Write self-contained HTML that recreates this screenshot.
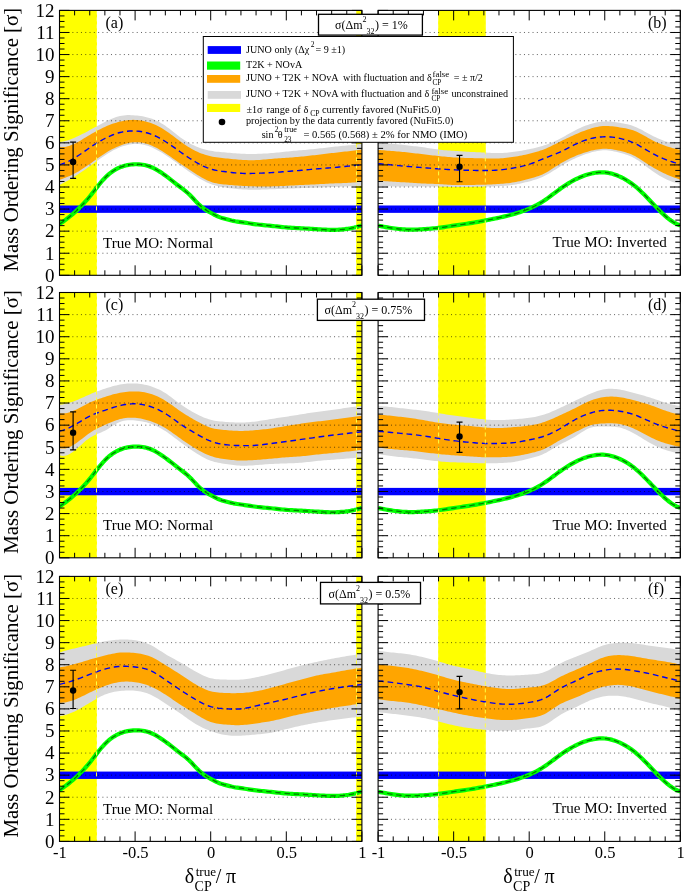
<!DOCTYPE html>
<html><head><meta charset="utf-8"><style>
html,body{margin:0;padding:0;background:#fff;}
svg{display:block;will-change:transform;}
</style></head><body>
<svg width="685" height="894" viewBox="0 0 685 894">
<rect width="685" height="894" fill="#fff"/>
<clipPath id="clipa"><rect x="59.5" y="10.4" width="302.4" height="264.9"/></clipPath>
<g clip-path="url(#clipa)">
<rect x="59.5" y="10.4" width="37.5" height="264.9" fill="#ffff00"/>
<rect x="356.0" y="10.4" width="5.9" height="264.9" fill="#ffff00"/>
<polygon fill="#d9d9d9" points="59.5,142.1 61.39,141.82 63.28,141.46 65.17,141.01 67.06,140.48 68.95,139.88 70.84,139.21 72.73,138.48 74.62,137.7 76.51,136.87 78.4,135.99 80.29,135.07 82.18,134.12 84.07,133.14 85.96,132.14 87.85,131.13 89.74,130.1 91.63,129.07 93.52,128.04 95.41,127.01 97.3,125.98 99.19,124.96 101.08,123.96 102.97,122.97 104.86,122 106.75,121.05 108.64,120.14 110.53,119.27 112.42,118.46 114.31,117.71 116.2,117.05 118.09,116.47 119.98,116 121.87,115.64 123.76,115.38 125.65,115.21 127.54,115.12 129.43,115.11 131.32,115.16 133.21,115.26 135.1,115.4 136.99,115.57 138.88,115.79 140.77,116.04 142.66,116.35 144.55,116.71 146.44,117.14 148.33,117.63 150.22,118.2 152.11,118.85 154,119.59 155.89,120.4 157.78,121.31 159.67,122.3 161.56,123.38 163.45,124.54 165.34,125.8 167.23,127.14 169.12,128.56 171.01,130.03 172.9,131.52 174.79,133.03 176.68,134.52 178.57,135.99 180.46,137.4 182.35,138.74 184.24,140.02 186.13,141.22 188.02,142.36 189.91,143.42 191.8,144.41 193.69,145.34 195.58,146.2 197.47,146.99 199.36,147.72 201.25,148.38 203.14,148.98 205.03,149.52 206.92,150 208.81,150.43 210.7,150.8 212.59,151.12 214.48,151.39 216.37,151.63 218.26,151.83 220.15,152.02 222.04,152.18 223.93,152.34 225.82,152.5 227.71,152.66 229.6,152.83 231.49,153 233.38,153.16 235.27,153.31 237.16,153.46 239.05,153.59 240.94,153.7 242.83,153.79 244.72,153.86 246.61,153.91 248.5,153.94 250.39,153.96 252.28,153.95 254.17,153.94 256.06,153.9 257.95,153.85 259.84,153.79 261.73,153.71 263.62,153.61 265.51,153.51 267.4,153.39 269.29,153.25 271.18,153.1 273.07,152.94 274.96,152.76 276.85,152.58 278.74,152.38 280.63,152.19 282.52,151.99 284.41,151.79 286.3,151.6 288.19,151.41 290.08,151.23 291.97,151.05 293.86,150.87 295.75,150.7 297.64,150.53 299.53,150.36 301.42,150.2 303.31,150.04 305.2,149.88 307.09,149.71 308.98,149.54 310.87,149.37 312.76,149.19 314.65,149 316.54,148.8 318.43,148.59 320.32,148.37 322.21,148.14 324.1,147.91 325.99,147.67 327.88,147.44 329.77,147.22 331.66,147 333.55,146.79 335.44,146.59 337.33,146.4 339.22,146.22 341.11,146.04 343,145.86 344.89,145.68 346.78,145.5 348.67,145.32 350.56,145.13 352.45,144.93 354.34,144.73 356.23,144.52 358.12,144.29 360.01,144.05 361.9,143.8 361.9,185.8 360.01,185.88 358.12,185.95 356.23,186.03 354.34,186.1 352.45,186.18 350.56,186.25 348.67,186.33 346.78,186.4 344.89,186.47 343,186.55 341.11,186.62 339.22,186.7 337.33,186.77 335.44,186.85 333.55,186.92 331.66,187 329.77,187.08 327.88,187.16 325.99,187.23 324.1,187.31 322.21,187.39 320.32,187.46 318.43,187.53 316.54,187.6 314.65,187.67 312.76,187.73 310.87,187.79 308.98,187.85 307.09,187.91 305.2,187.97 303.31,188.03 301.42,188.1 299.53,188.17 297.64,188.24 295.75,188.31 293.86,188.39 291.97,188.47 290.08,188.54 288.19,188.62 286.3,188.7 284.41,188.78 282.52,188.86 280.63,188.93 278.74,189.01 276.85,189.08 274.96,189.16 273.07,189.23 271.18,189.3 269.29,189.37 267.4,189.44 265.51,189.5 263.62,189.56 261.73,189.61 259.84,189.65 257.95,189.68 256.06,189.7 254.17,189.71 252.28,189.7 250.39,189.68 248.5,189.65 246.61,189.59 244.72,189.52 242.83,189.42 240.94,189.3 239.05,189.16 237.16,188.99 235.27,188.8 233.38,188.6 231.49,188.37 229.6,188.13 227.71,187.87 225.82,187.6 223.93,187.32 222.04,187.01 220.15,186.67 218.26,186.28 216.37,185.85 214.48,185.34 212.59,184.76 210.7,184.1 208.81,183.34 206.92,182.49 205.03,181.57 203.14,180.57 201.25,179.5 199.36,178.38 197.47,177.21 195.58,176 193.69,174.76 191.8,173.49 189.91,172.19 188.02,170.88 186.13,169.55 184.24,168.2 182.35,166.85 180.46,165.5 178.57,164.15 176.68,162.8 174.79,161.46 172.9,160.13 171.01,158.81 169.12,157.52 167.23,156.25 165.34,155 163.45,153.79 161.56,152.61 159.67,151.48 157.78,150.4 155.89,149.39 154,148.45 152.11,147.58 150.22,146.8 148.33,146.11 146.44,145.52 144.55,145.02 142.66,144.62 140.77,144.32 138.88,144.11 136.99,144.01 135.1,144 133.21,144.09 131.32,144.28 129.43,144.57 127.54,144.95 125.65,145.41 123.76,145.96 121.87,146.59 119.98,147.3 118.09,148.08 116.2,148.94 114.31,149.86 112.42,150.85 110.53,151.91 108.64,153.02 106.75,154.18 104.86,155.4 102.97,156.67 101.08,157.97 99.19,159.31 97.3,160.67 95.41,162.05 93.52,163.44 91.63,164.82 89.74,166.2 87.85,167.56 85.96,168.9 84.07,170.23 82.18,171.53 80.29,172.81 78.4,174.07 76.51,175.3 74.62,176.5 72.73,177.68 70.84,178.82 68.95,179.94 67.06,181.02 65.17,182.07 63.28,183.08 61.39,184.06 59.5,185"/>
<polygon fill="#ffa500" points="59.5,147 61.39,147.14 63.28,147.1 65.17,146.88 67.06,146.5 68.95,145.98 70.84,145.33 72.73,144.57 74.62,143.7 76.51,142.75 78.4,141.73 80.29,140.65 82.18,139.52 84.07,138.37 85.96,137.21 87.85,136.05 89.74,134.9 91.63,133.78 93.52,132.69 95.41,131.63 97.3,130.61 99.19,129.63 101.08,128.68 102.97,127.77 104.86,126.9 106.75,126.07 108.64,125.29 110.53,124.55 112.42,123.86 114.31,123.22 116.2,122.63 118.09,122.09 119.98,121.6 121.87,121.17 123.76,120.79 125.65,120.48 127.54,120.23 129.43,120.04 131.32,119.92 133.21,119.87 135.1,119.9 136.99,120 138.88,120.18 140.77,120.43 142.66,120.76 144.55,121.16 146.44,121.63 148.33,122.18 150.22,122.8 152.11,123.49 154,124.26 155.89,125.1 157.78,126.01 159.67,127 161.56,128.06 163.45,129.19 165.34,130.4 167.23,131.68 169.12,133.02 171.01,134.4 172.9,135.82 174.79,137.25 176.68,138.68 178.57,140.11 180.46,141.5 182.35,142.85 184.24,144.17 186.13,145.43 188.02,146.64 189.91,147.79 191.8,148.89 193.69,149.93 195.58,150.9 197.47,151.8 199.36,152.64 201.25,153.41 203.14,154.12 205.03,154.76 206.92,155.33 208.81,155.85 210.7,156.3 212.59,156.69 214.48,157.03 216.37,157.32 218.26,157.58 220.15,157.81 222.04,158.02 223.93,158.21 225.82,158.4 227.71,158.59 229.6,158.78 231.49,158.97 233.38,159.16 235.27,159.34 237.16,159.51 239.05,159.66 240.94,159.8 242.83,159.92 244.72,160.02 246.61,160.1 248.5,160.16 250.39,160.19 252.28,160.19 254.17,160.16 256.06,160.1 257.95,160.01 259.84,159.89 261.73,159.75 263.62,159.59 265.51,159.42 267.4,159.24 269.29,159.07 271.18,158.9 273.07,158.74 274.96,158.59 276.85,158.45 278.74,158.31 280.63,158.18 282.52,158.06 284.41,157.93 286.3,157.8 288.19,157.67 290.08,157.54 291.97,157.4 293.86,157.25 295.75,157.1 297.64,156.94 299.53,156.78 301.42,156.6 303.31,156.41 305.2,156.21 307.09,156.01 308.98,155.8 310.87,155.58 312.76,155.35 314.65,155.13 316.54,154.9 318.43,154.67 320.32,154.44 322.21,154.22 324.1,153.99 325.99,153.76 327.88,153.54 329.77,153.32 331.66,153.1 333.55,152.88 335.44,152.67 337.33,152.46 339.22,152.25 341.11,152.03 343,151.82 344.89,151.61 346.78,151.4 348.67,151.19 350.56,150.97 352.45,150.75 354.34,150.53 356.23,150.3 358.12,150.07 360.01,149.84 361.9,149.6 361.9,181.7 360.01,181.92 358.12,182.12 356.23,182.29 354.34,182.45 352.45,182.58 350.56,182.7 348.67,182.81 346.78,182.9 344.89,182.98 343,183.06 341.11,183.13 339.22,183.2 337.33,183.27 335.44,183.34 333.55,183.42 331.66,183.5 329.77,183.59 327.88,183.68 325.99,183.78 324.1,183.89 322.21,183.99 320.32,184.1 318.43,184.2 316.54,184.3 314.65,184.39 312.76,184.48 310.87,184.57 308.98,184.65 307.09,184.74 305.2,184.82 303.31,184.91 301.42,185 299.53,185.09 297.64,185.19 295.75,185.29 293.86,185.39 291.97,185.5 290.08,185.6 288.19,185.7 286.3,185.8 284.41,185.9 282.52,185.99 280.63,186.08 278.74,186.16 276.85,186.23 274.96,186.3 273.07,186.35 271.18,186.4 269.29,186.44 267.4,186.46 265.51,186.47 263.62,186.48 261.73,186.47 259.84,186.46 257.95,186.43 256.06,186.4 254.17,186.36 252.28,186.31 250.39,186.25 248.5,186.18 246.61,186.1 244.72,186.01 242.83,185.91 240.94,185.8 239.05,185.68 237.16,185.55 235.27,185.41 233.38,185.26 231.49,185.11 229.6,184.94 227.71,184.77 225.82,184.6 223.93,184.42 222.04,184.22 220.15,183.98 218.26,183.7 216.37,183.36 214.48,182.93 212.59,182.42 210.7,181.8 208.81,181.06 206.92,180.22 205.03,179.29 203.14,178.27 201.25,177.19 199.36,176.06 197.47,174.89 195.58,173.7 193.69,172.5 191.8,171.28 189.91,170.05 188.02,168.81 186.13,167.56 184.24,166.29 182.35,165 180.46,163.7 178.57,162.38 176.68,161.05 174.79,159.71 172.9,158.38 171.01,157.05 169.12,155.74 167.23,154.46 165.34,153.2 163.45,151.98 161.56,150.8 159.67,149.67 157.78,148.6 155.89,147.59 154,146.65 152.11,145.78 150.22,145 148.33,144.31 146.44,143.71 144.55,143.2 142.66,142.8 140.77,142.49 138.88,142.29 136.99,142.19 135.1,142.2 133.21,142.32 131.32,142.55 129.43,142.87 127.54,143.28 125.65,143.78 123.76,144.35 121.87,145 119.98,145.7 118.09,146.46 116.2,147.28 114.31,148.15 112.42,149.08 110.53,150.07 108.64,151.12 106.75,152.23 104.86,153.4 102.97,154.63 101.08,155.91 99.19,157.22 97.3,158.57 95.41,159.93 93.52,161.3 91.63,162.66 89.74,164 87.85,165.32 85.96,166.6 84.07,167.85 82.18,169.07 80.29,170.24 78.4,171.38 76.51,172.46 74.62,173.5 72.73,174.49 70.84,175.42 68.95,176.29 67.06,177.11 65.17,177.86 63.28,178.54 61.39,179.16 59.5,179.7"/>
<rect x="59.5" y="205.49" width="302.4" height="7.37" fill="#0000ff"/>
<polyline fill="none" stroke="#00ff00" stroke-width="4.2" stroke-linejoin="round" points="59.5,224.09 61.39,222.8 63.28,221.47 65.17,220.09 67.06,218.66 68.95,217.18 70.84,215.64 72.73,214.04 74.62,212.39 76.51,210.66 78.4,208.87 80.29,207 82.18,205.06 84.07,203.05 85.96,200.95 87.85,198.76 89.74,196.49 91.63,194.14 93.52,191.72 95.41,189.29 97.3,186.86 99.19,184.48 101.08,182.18 102.97,179.99 104.86,177.95 106.75,176.08 108.64,174.39 110.53,172.85 112.42,171.48 114.31,170.25 116.2,169.15 118.09,168.19 119.98,167.35 121.87,166.63 123.76,166.01 125.65,165.49 127.54,165.07 129.43,164.75 131.32,164.51 133.21,164.35 135.1,164.26 136.99,164.25 138.88,164.32 140.77,164.47 142.66,164.71 144.55,165.04 146.44,165.48 148.33,166.03 150.22,166.69 152.11,167.47 154,168.36 155.89,169.36 157.78,170.45 159.67,171.62 161.56,172.86 163.45,174.16 165.34,175.52 167.23,176.92 169.12,178.36 171.01,179.82 172.9,181.3 174.79,182.79 176.68,184.28 178.57,185.76 180.46,187.22 182.35,188.66 184.24,190.12 186.13,191.64 188.02,193.26 189.91,195.03 191.8,196.96 193.69,199 195.58,201.05 197.47,203.04 199.36,204.88 201.25,206.56 203.14,208.07 205.03,209.42 206.92,210.62 208.81,211.72 210.7,212.75 212.59,213.77 214.48,214.78 216.37,215.74 218.26,216.62 220.15,217.37 222.04,218.01 223.93,218.55 225.82,219.05 227.71,219.54 229.6,220.03 231.49,220.49 233.38,220.9 235.27,221.26 237.16,221.56 239.05,221.83 240.94,222.1 242.83,222.37 244.72,222.66 246.61,222.94 248.5,223.23 250.39,223.52 252.28,223.8 254.17,224.06 256.06,224.31 257.95,224.53 259.84,224.74 261.73,224.94 263.62,225.12 265.51,225.31 267.4,225.48 269.29,225.66 271.18,225.85 273.07,226.05 274.96,226.25 276.85,226.46 278.74,226.66 280.63,226.86 282.52,227.05 284.41,227.23 286.3,227.4 288.19,227.54 290.08,227.67 291.97,227.79 293.86,227.9 295.75,228 297.64,228.09 299.53,228.18 301.42,228.28 303.31,228.38 305.2,228.48 307.09,228.59 308.98,228.7 310.87,228.82 312.76,228.93 314.65,229.05 316.54,229.16 318.43,229.28 320.32,229.39 322.21,229.5 324.1,229.6 325.99,229.68 327.88,229.75 329.77,229.8 331.66,229.83 333.55,229.83 335.44,229.8 337.33,229.74 339.22,229.65 341.11,229.53 343,229.37 344.89,229.18 346.78,228.94 348.67,228.67 350.56,228.35 352.45,227.98 354.34,227.57 356.23,227.11 358.12,226.6 360.01,226.03 361.9,225.41"/>
<polyline fill="none" stroke="#000" stroke-opacity="0.5" stroke-width="1.3" stroke-dasharray="5.4 3.8" points="59.5,224.09 61.39,222.8 63.28,221.47 65.17,220.09 67.06,218.66 68.95,217.18 70.84,215.64 72.73,214.04 74.62,212.39 76.51,210.66 78.4,208.87 80.29,207 82.18,205.06 84.07,203.05 85.96,200.95 87.85,198.76 89.74,196.49 91.63,194.14 93.52,191.72 95.41,189.29 97.3,186.86 99.19,184.48 101.08,182.18 102.97,179.99 104.86,177.95 106.75,176.08 108.64,174.39 110.53,172.85 112.42,171.48 114.31,170.25 116.2,169.15 118.09,168.19 119.98,167.35 121.87,166.63 123.76,166.01 125.65,165.49 127.54,165.07 129.43,164.75 131.32,164.51 133.21,164.35 135.1,164.26 136.99,164.25 138.88,164.32 140.77,164.47 142.66,164.71 144.55,165.04 146.44,165.48 148.33,166.03 150.22,166.69 152.11,167.47 154,168.36 155.89,169.36 157.78,170.45 159.67,171.62 161.56,172.86 163.45,174.16 165.34,175.52 167.23,176.92 169.12,178.36 171.01,179.82 172.9,181.3 174.79,182.79 176.68,184.28 178.57,185.76 180.46,187.22 182.35,188.66 184.24,190.12 186.13,191.64 188.02,193.26 189.91,195.03 191.8,196.96 193.69,199 195.58,201.05 197.47,203.04 199.36,204.88 201.25,206.56 203.14,208.07 205.03,209.42 206.92,210.62 208.81,211.72 210.7,212.75 212.59,213.77 214.48,214.78 216.37,215.74 218.26,216.62 220.15,217.37 222.04,218.01 223.93,218.55 225.82,219.05 227.71,219.54 229.6,220.03 231.49,220.49 233.38,220.9 235.27,221.26 237.16,221.56 239.05,221.83 240.94,222.1 242.83,222.37 244.72,222.66 246.61,222.94 248.5,223.23 250.39,223.52 252.28,223.8 254.17,224.06 256.06,224.31 257.95,224.53 259.84,224.74 261.73,224.94 263.62,225.12 265.51,225.31 267.4,225.48 269.29,225.66 271.18,225.85 273.07,226.05 274.96,226.25 276.85,226.46 278.74,226.66 280.63,226.86 282.52,227.05 284.41,227.23 286.3,227.4 288.19,227.54 290.08,227.67 291.97,227.79 293.86,227.9 295.75,228 297.64,228.09 299.53,228.18 301.42,228.28 303.31,228.38 305.2,228.48 307.09,228.59 308.98,228.7 310.87,228.82 312.76,228.93 314.65,229.05 316.54,229.16 318.43,229.28 320.32,229.39 322.21,229.5 324.1,229.6 325.99,229.68 327.88,229.75 329.77,229.8 331.66,229.83 333.55,229.83 335.44,229.8 337.33,229.74 339.22,229.65 341.11,229.53 343,229.37 344.89,229.18 346.78,228.94 348.67,228.67 350.56,228.35 352.45,227.98 354.34,227.57 356.23,227.11 358.12,226.6 360.01,226.03 361.9,225.41"/>
<polyline fill="none" stroke="#0000f0" stroke-width="1.4" stroke-dasharray="5.7 3.8" points="59.5,164.6 61.39,164.13 63.28,163.53 65.17,162.82 67.06,162.01 68.95,161.1 70.84,160.1 72.73,159.03 74.62,157.9 76.51,156.71 78.4,155.48 80.29,154.21 82.18,152.92 84.07,151.61 85.96,150.3 87.85,148.99 89.74,147.7 91.63,146.43 93.52,145.19 95.41,143.98 97.3,142.8 99.19,141.66 101.08,140.56 102.97,139.51 104.86,138.5 106.75,137.54 108.64,136.63 110.53,135.78 112.42,134.99 114.31,134.27 116.2,133.61 118.09,133.02 119.98,132.5 121.87,132.06 123.76,131.7 125.65,131.41 127.54,131.19 129.43,131.04 131.32,130.96 133.21,130.95 135.1,131 136.99,131.12 138.88,131.3 140.77,131.55 142.66,131.87 144.55,132.26 146.44,132.73 148.33,133.28 150.22,133.9 152.11,134.6 154,135.39 155.89,136.24 157.78,137.17 159.67,138.16 161.56,139.22 163.45,140.33 165.34,141.5 167.23,142.72 169.12,143.98 171.01,145.28 172.9,146.6 174.79,147.94 176.68,149.29 178.57,150.65 180.46,152 182.35,153.34 184.24,154.66 186.13,155.96 188.02,157.23 189.91,158.48 191.8,159.69 193.69,160.87 195.58,162 197.47,163.09 199.36,164.13 201.25,165.11 203.14,166.03 205.03,166.88 206.92,167.67 208.81,168.37 210.7,169 212.59,169.54 214.48,170.01 216.37,170.4 218.26,170.75 220.15,171.05 222.04,171.32 223.93,171.56 225.82,171.8 227.71,172.03 229.6,172.26 231.49,172.48 233.38,172.69 235.27,172.88 237.16,173.04 239.05,173.19 240.94,173.3 242.83,173.38 244.72,173.43 246.61,173.46 248.5,173.46 250.39,173.44 252.28,173.4 254.17,173.36 256.06,173.3 257.95,173.24 259.84,173.17 261.73,173.09 263.62,173.01 265.51,172.92 267.4,172.82 269.29,172.71 271.18,172.6 273.07,172.48 274.96,172.35 276.85,172.22 278.74,172.08 280.63,171.93 282.52,171.79 284.41,171.65 286.3,171.5 288.19,171.36 290.08,171.21 291.97,171.07 293.86,170.92 295.75,170.77 297.64,170.62 299.53,170.46 301.42,170.3 303.31,170.13 305.2,169.95 307.09,169.78 308.98,169.6 310.87,169.42 312.76,169.24 314.65,169.07 316.54,168.9 318.43,168.74 320.32,168.59 322.21,168.44 324.1,168.29 325.99,168.15 327.88,168 329.77,167.85 331.66,167.7 333.55,167.54 335.44,167.38 337.33,167.21 339.22,167.03 341.11,166.85 343,166.67 344.89,166.49 346.78,166.3 348.67,166.11 350.56,165.92 352.45,165.73 354.34,165.54 356.23,165.35 358.12,165.17 360.01,164.98 361.9,164.8"/>
<line x1="96.5" y1="10.4" x2="96.5" y2="275.3" stroke="#ffff40" stroke-width="1" stroke-dasharray="4 3"/>
<line x1="356.5" y1="10.4" x2="356.5" y2="275.3" stroke="#ffff40" stroke-width="1" stroke-dasharray="4 3"/>
<line x1="59.5" y1="253.23" x2="361.9" y2="253.23" stroke="#000" stroke-opacity="0.62" stroke-width="1" stroke-dasharray="1 3.29"/>
<line x1="59.5" y1="231.15" x2="361.9" y2="231.15" stroke="#000" stroke-opacity="0.62" stroke-width="1" stroke-dasharray="1 3.29"/>
<line x1="59.5" y1="209.07" x2="361.9" y2="209.07" stroke="#000" stroke-opacity="0.62" stroke-width="1" stroke-dasharray="1 3.29"/>
<line x1="59.5" y1="187" x2="361.9" y2="187" stroke="#000" stroke-opacity="0.62" stroke-width="1" stroke-dasharray="1 3.29"/>
<line x1="59.5" y1="164.93" x2="361.9" y2="164.93" stroke="#000" stroke-opacity="0.62" stroke-width="1" stroke-dasharray="1 3.29"/>
<line x1="59.5" y1="142.85" x2="361.9" y2="142.85" stroke="#000" stroke-opacity="0.62" stroke-width="1" stroke-dasharray="1 3.29"/>
<line x1="59.5" y1="120.77" x2="361.9" y2="120.77" stroke="#000" stroke-opacity="0.62" stroke-width="1" stroke-dasharray="1 3.29"/>
<line x1="59.5" y1="98.7" x2="361.9" y2="98.7" stroke="#000" stroke-opacity="0.62" stroke-width="1" stroke-dasharray="1 3.29"/>
<line x1="59.5" y1="76.62" x2="361.9" y2="76.62" stroke="#000" stroke-opacity="0.62" stroke-width="1" stroke-dasharray="1 3.29"/>
<line x1="59.5" y1="54.55" x2="361.9" y2="54.55" stroke="#000" stroke-opacity="0.62" stroke-width="1" stroke-dasharray="1 3.29"/>
<line x1="59.5" y1="32.47" x2="361.9" y2="32.47" stroke="#000" stroke-opacity="0.62" stroke-width="1" stroke-dasharray="1 3.29"/>
<line x1="73.11" y1="142.19" x2="73.11" y2="178.39" stroke="#000" stroke-width="1.15"/>
<line x1="70.11" y1="142.19" x2="76.11" y2="142.19" stroke="#000" stroke-width="1.15"/>
<line x1="70.11" y1="178.39" x2="76.11" y2="178.39" stroke="#000" stroke-width="1.15"/>
<circle cx="73.11" cy="162.06" r="3.2" fill="#000"/>
</g>
<path d="M59.5,275.3h10M361.9,275.3h-10M59.5,269.78h5M361.9,269.78h-5M59.5,264.26h5M361.9,264.26h-5M59.5,258.74h5M361.9,258.74h-5M59.5,253.23h10M361.9,253.23h-10M59.5,247.71h5M361.9,247.71h-5M59.5,242.19h5M361.9,242.19h-5M59.5,236.67h5M361.9,236.67h-5M59.5,231.15h10M361.9,231.15h-10M59.5,225.63h5M361.9,225.63h-5M59.5,220.11h5M361.9,220.11h-5M59.5,214.59h5M361.9,214.59h-5M59.5,209.07h10M361.9,209.07h-10M59.5,203.56h5M361.9,203.56h-5M59.5,198.04h5M361.9,198.04h-5M59.5,192.52h5M361.9,192.52h-5M59.5,187h10M361.9,187h-10M59.5,181.48h5M361.9,181.48h-5M59.5,175.96h5M361.9,175.96h-5M59.5,170.44h5M361.9,170.44h-5M59.5,164.93h10M361.9,164.93h-10M59.5,159.41h5M361.9,159.41h-5M59.5,153.89h5M361.9,153.89h-5M59.5,148.37h5M361.9,148.37h-5M59.5,142.85h10M361.9,142.85h-10M59.5,137.33h5M361.9,137.33h-5M59.5,131.81h5M361.9,131.81h-5M59.5,126.29h5M361.9,126.29h-5M59.5,120.77h10M361.9,120.77h-10M59.5,115.26h5M361.9,115.26h-5M59.5,109.74h5M361.9,109.74h-5M59.5,104.22h5M361.9,104.22h-5M59.5,98.7h10M361.9,98.7h-10M59.5,93.18h5M361.9,93.18h-5M59.5,87.66h5M361.9,87.66h-5M59.5,82.14h5M361.9,82.14h-5M59.5,76.62h10M361.9,76.62h-10M59.5,71.11h5M361.9,71.11h-5M59.5,65.59h5M361.9,65.59h-5M59.5,60.07h5M361.9,60.07h-5M59.5,54.55h10M361.9,54.55h-10M59.5,49.03h5M361.9,49.03h-5M59.5,43.51h5M361.9,43.51h-5M59.5,37.99h5M361.9,37.99h-5M59.5,32.47h10M361.9,32.47h-10M59.5,26.96h5M361.9,26.96h-5M59.5,21.44h5M361.9,21.44h-5M59.5,15.92h5M361.9,15.92h-5M59.5,10.4h10M361.9,10.4h-10M59.5,10.4v10M59.5,275.3v-10M74.62,10.4v5M74.62,275.3v-5M89.74,10.4v5M89.74,275.3v-5M104.86,10.4v5M104.86,275.3v-5M119.98,10.4v5M119.98,275.3v-5M135.1,10.4v10M135.1,275.3v-10M150.22,10.4v5M150.22,275.3v-5M165.34,10.4v5M165.34,275.3v-5M180.46,10.4v5M180.46,275.3v-5M195.58,10.4v5M195.58,275.3v-5M210.7,10.4v10M210.7,275.3v-10M225.82,10.4v5M225.82,275.3v-5M240.94,10.4v5M240.94,275.3v-5M256.06,10.4v5M256.06,275.3v-5M271.18,10.4v5M271.18,275.3v-5M286.3,10.4v10M286.3,275.3v-10M301.42,10.4v5M301.42,275.3v-5M316.54,10.4v5M316.54,275.3v-5M331.66,10.4v5M331.66,275.3v-5M346.78,10.4v5M346.78,275.3v-5M361.9,10.4v10M361.9,275.3v-10" stroke="#000" stroke-width="1" fill="none"/>
<rect x="59.5" y="10.4" width="302.4" height="264.9" fill="none" stroke="#000" stroke-width="1.1"/>
<text x="105.5" y="28.2" font-family="Liberation Serif" font-size="16">(a)</text>
<text x="103" y="247.6" font-family="Liberation Serif" font-size="15.1">True MO: Normal</text>
<clipPath id="clipb"><rect x="378.1" y="10.4" width="302.2" height="264.9"/></clipPath>
<g clip-path="url(#clipb)">
<rect x="438.1" y="10.4" width="47.7" height="264.9" fill="#ffff00"/>
<polygon fill="#d9d9d9" points="378.1,143.5 379.99,143.39 381.88,143.34 383.77,143.32 385.66,143.35 387.54,143.42 389.43,143.52 391.32,143.65 393.21,143.8 395.1,143.98 396.99,144.17 398.88,144.38 400.77,144.6 402.65,144.82 404.54,145.05 406.43,145.28 408.32,145.5 410.21,145.71 412.1,145.93 413.99,146.13 415.88,146.35 417.76,146.56 419.65,146.79 421.54,147.04 423.43,147.3 425.32,147.58 427.21,147.88 429.1,148.19 430.99,148.49 432.87,148.8 434.76,149.08 436.65,149.36 438.54,149.6 440.43,149.81 442.32,150 444.21,150.16 446.1,150.31 447.98,150.44 449.87,150.56 451.76,150.68 453.65,150.8 455.54,150.93 457.43,151.06 459.32,151.19 461.21,151.32 463.09,151.45 464.98,151.57 466.87,151.69 468.76,151.8 470.65,151.9 472.54,151.99 474.43,152.07 476.31,152.15 478.2,152.23 480.09,152.31 481.98,152.4 483.87,152.5 485.76,152.61 487.65,152.72 489.54,152.83 491.43,152.93 493.31,153.01 495.2,153.07 497.09,153.11 498.98,153.1 500.87,153.05 502.76,152.97 504.65,152.84 506.53,152.69 508.42,152.5 510.31,152.29 512.2,152.05 514.09,151.8 515.98,151.53 517.87,151.25 519.76,150.94 521.64,150.63 523.53,150.3 525.42,149.95 527.31,149.58 529.2,149.2 531.09,148.8 532.98,148.38 534.87,147.94 536.75,147.48 538.64,146.98 540.53,146.46 542.42,145.9 544.31,145.3 546.2,144.66 548.09,143.99 549.98,143.27 551.87,142.5 553.75,141.69 555.64,140.84 557.53,139.94 559.42,139 561.31,138.01 563.2,136.98 565.09,135.93 566.97,134.87 568.86,133.8 570.75,132.74 572.64,131.7 574.53,130.7 576.42,129.74 578.31,128.82 580.2,127.95 582.09,127.12 583.97,126.35 585.86,125.62 587.75,124.93 589.64,124.3 591.53,123.72 593.42,123.19 595.31,122.72 597.19,122.31 599.08,121.97 600.97,121.7 602.86,121.51 604.75,121.4 606.64,121.37 608.53,121.42 610.42,121.53 612.3,121.71 614.19,121.93 616.08,122.19 617.97,122.48 619.86,122.8 621.75,123.13 623.64,123.49 625.53,123.88 627.41,124.31 629.3,124.8 631.19,125.35 633.08,125.98 634.97,126.7 636.86,127.51 638.75,128.4 640.64,129.35 642.52,130.35 644.41,131.38 646.3,132.43 648.19,133.47 650.08,134.5 651.97,135.49 653.86,136.45 655.75,137.36 657.63,138.23 659.52,139.05 661.41,139.83 663.3,140.54 665.19,141.2 667.08,141.8 668.97,142.33 670.86,142.8 672.75,143.19 674.63,143.51 676.52,143.76 678.41,143.92 680.3,144 680.3,183.8 678.41,183.48 676.52,183.06 674.63,182.56 672.75,181.97 670.86,181.29 668.97,180.54 667.08,179.7 665.19,178.8 663.3,177.82 661.41,176.78 659.52,175.68 657.63,174.51 655.75,173.28 653.86,172.01 651.97,170.68 650.08,169.3 648.19,167.88 646.3,166.44 644.41,165 642.52,163.57 640.64,162.19 638.75,160.87 636.86,159.63 634.97,158.5 633.08,157.49 631.19,156.59 629.3,155.79 627.41,155.08 625.53,154.43 623.64,153.85 621.75,153.31 619.86,152.8 617.97,152.31 616.08,151.85 614.19,151.43 612.3,151.06 610.42,150.75 608.53,150.51 606.64,150.36 604.75,150.3 602.86,150.34 600.97,150.48 599.08,150.71 597.19,151.02 595.31,151.41 593.42,151.85 591.53,152.35 589.64,152.9 587.75,153.49 585.86,154.11 583.97,154.78 582.09,155.48 580.2,156.23 578.31,157.01 576.42,157.83 574.53,158.7 572.64,159.61 570.75,160.55 568.86,161.54 566.97,162.56 565.09,163.62 563.2,164.71 561.31,165.84 559.42,167 557.53,168.19 555.64,169.4 553.75,170.6 551.87,171.8 549.98,172.96 548.09,174.07 546.2,175.12 544.31,176.1 542.42,176.99 540.53,177.79 538.64,178.52 536.75,179.18 534.87,179.79 532.98,180.36 531.09,180.89 529.2,181.4 527.31,181.89 525.42,182.36 523.53,182.81 521.64,183.25 519.76,183.65 517.87,184.03 515.98,184.38 514.09,184.7 512.2,184.99 510.31,185.24 508.42,185.46 506.53,185.66 504.65,185.83 502.76,185.98 500.87,186.1 498.98,186.2 497.09,186.28 495.2,186.35 493.31,186.4 491.43,186.45 489.54,186.49 487.65,186.52 485.76,186.56 483.87,186.6 481.98,186.65 480.09,186.7 478.2,186.75 476.31,186.81 474.43,186.86 472.54,186.91 470.65,186.96 468.76,187 466.87,187.03 464.98,187.06 463.09,187.07 461.21,187.08 459.32,187.07 457.43,187.06 455.54,187.03 453.65,187 451.76,186.96 449.87,186.9 447.98,186.85 446.1,186.79 444.21,186.73 442.32,186.68 440.43,186.64 438.54,186.6 436.65,186.58 434.76,186.56 432.87,186.56 430.99,186.56 429.1,186.57 427.21,186.58 425.32,186.59 423.43,186.6 421.54,186.61 419.65,186.62 417.76,186.62 415.88,186.62 413.99,186.62 412.1,186.62 410.21,186.61 408.32,186.6 406.43,186.59 404.54,186.57 402.65,186.55 400.77,186.53 398.88,186.5 396.99,186.47 395.1,186.44 393.21,186.4 391.32,186.36 389.43,186.32 387.54,186.27 385.66,186.22 383.77,186.17 381.88,186.12 379.99,186.06 378.1,186"/>
<polygon fill="#ffa500" points="378.1,149.9 379.99,150.05 381.88,150.2 383.77,150.35 385.66,150.5 387.54,150.65 389.43,150.8 391.32,150.95 393.21,151.1 395.1,151.26 396.99,151.41 398.88,151.58 400.77,151.75 402.65,151.92 404.54,152.11 406.43,152.3 408.32,152.5 410.21,152.71 412.1,152.93 413.99,153.15 415.88,153.38 417.76,153.61 419.65,153.84 421.54,154.07 423.43,154.3 425.32,154.52 427.21,154.74 429.1,154.96 430.99,155.17 432.87,155.38 434.76,155.59 436.65,155.8 438.54,156 440.43,156.2 442.32,156.4 444.21,156.59 446.1,156.78 447.98,156.95 449.87,157.12 451.76,157.27 453.65,157.4 455.54,157.52 457.43,157.61 459.32,157.7 461.21,157.77 463.09,157.84 464.98,157.9 466.87,157.95 468.76,158 470.65,158.05 472.54,158.1 474.43,158.15 476.31,158.2 478.2,158.25 480.09,158.3 481.98,158.35 483.87,158.4 485.76,158.45 487.65,158.49 489.54,158.52 491.43,158.53 493.31,158.54 495.2,158.52 497.09,158.47 498.98,158.4 500.87,158.3 502.76,158.16 504.65,158 506.53,157.81 508.42,157.59 510.31,157.35 512.2,157.09 514.09,156.8 515.98,156.49 517.87,156.17 519.76,155.82 521.64,155.45 523.53,155.07 525.42,154.66 527.31,154.24 529.2,153.8 531.09,153.34 532.98,152.86 534.87,152.35 536.75,151.81 538.64,151.23 540.53,150.6 542.42,149.93 544.31,149.2 546.2,148.42 548.09,147.58 549.98,146.7 551.87,145.79 553.75,144.86 555.64,143.91 557.53,142.95 559.42,142 561.31,141.05 563.2,140.12 565.09,139.2 566.97,138.29 568.86,137.39 570.75,136.51 572.64,135.65 574.53,134.8 576.42,133.97 578.31,133.16 580.2,132.37 582.09,131.61 583.97,130.88 585.86,130.18 587.75,129.52 589.64,128.9 591.53,128.32 593.42,127.8 595.31,127.33 597.19,126.92 599.08,126.57 600.97,126.3 602.86,126.11 604.75,126 606.64,125.98 608.53,126.03 610.42,126.16 612.3,126.34 614.19,126.56 616.08,126.82 617.97,127.11 619.86,127.4 621.75,127.7 623.64,128.01 625.53,128.35 627.41,128.74 629.3,129.18 631.19,129.7 633.08,130.3 634.97,131 636.86,131.81 638.75,132.71 640.64,133.69 642.52,134.73 644.41,135.79 646.3,136.87 648.19,137.95 650.08,139 651.97,140.01 653.86,140.97 655.75,141.89 657.63,142.76 659.52,143.59 661.41,144.37 663.3,145.11 665.19,145.8 667.08,146.45 668.97,147.06 670.86,147.62 672.75,148.14 674.63,148.62 676.52,149.06 678.41,149.45 680.3,149.8 680.3,179.7 678.41,179.04 676.52,178.37 674.63,177.67 672.75,176.95 670.86,176.21 668.97,175.43 667.08,174.63 665.19,173.8 663.3,172.93 661.41,172.03 659.52,171.09 657.63,170.1 655.75,169.07 653.86,168 651.97,166.87 650.08,165.7 648.19,164.48 646.3,163.22 644.41,161.95 642.52,160.69 640.64,159.45 638.75,158.26 636.86,157.14 634.97,156.1 633.08,155.17 631.19,154.33 629.3,153.58 627.41,152.9 625.53,152.3 623.64,151.75 621.75,151.26 619.86,150.8 617.97,150.38 616.08,149.99 614.19,149.64 612.3,149.35 610.42,149.11 608.53,148.93 606.64,148.83 604.75,148.8 602.86,148.85 600.97,148.98 599.08,149.18 597.19,149.45 595.31,149.79 593.42,150.17 591.53,150.61 589.64,151.1 587.75,151.63 585.86,152.19 583.97,152.8 582.09,153.45 580.2,154.13 578.31,154.85 576.42,155.61 574.53,156.4 572.64,157.23 570.75,158.09 568.86,159 566.97,159.95 565.09,160.94 563.2,161.98 561.31,163.06 559.42,164.2 557.53,165.39 555.64,166.6 553.75,167.84 551.87,169.06 549.98,170.26 548.09,171.41 546.2,172.5 544.31,173.5 542.42,174.4 540.53,175.21 538.64,175.94 536.75,176.6 534.87,177.2 532.98,177.76 531.09,178.29 529.2,178.8 527.31,179.3 525.42,179.79 523.53,180.27 521.64,180.73 519.76,181.16 517.87,181.57 515.98,181.95 514.09,182.3 512.2,182.61 510.31,182.89 508.42,183.13 506.53,183.35 504.65,183.54 502.76,183.71 500.87,183.86 498.98,184 497.09,184.12 495.2,184.23 493.31,184.34 491.43,184.43 489.54,184.51 487.65,184.58 485.76,184.64 483.87,184.7 481.98,184.75 480.09,184.8 478.2,184.84 476.31,184.87 474.43,184.91 472.54,184.94 470.65,184.97 468.76,185 466.87,185.03 464.98,185.06 463.09,185.08 461.21,185.1 459.32,185.1 457.43,185.09 455.54,185.05 453.65,185 451.76,184.92 449.87,184.82 447.98,184.71 446.1,184.59 444.21,184.46 442.32,184.33 440.43,184.21 438.54,184.1 436.65,184.01 434.76,183.92 432.87,183.85 430.99,183.78 429.1,183.72 427.21,183.65 425.32,183.58 423.43,183.5 421.54,183.41 419.65,183.31 417.76,183.2 415.88,183.08 413.99,182.96 412.1,182.84 410.21,182.72 408.32,182.6 406.43,182.48 404.54,182.37 402.65,182.26 400.77,182.15 398.88,182.04 396.99,181.93 395.1,181.82 393.21,181.7 391.32,181.58 389.43,181.45 387.54,181.32 385.66,181.17 383.77,181.02 381.88,180.86 379.99,180.69 378.1,180.5"/>
<rect x="378.1" y="205.49" width="302.2" height="7.37" fill="#0000ff"/>
<polyline fill="none" stroke="#00ff00" stroke-width="4.2" stroke-linejoin="round" points="378.1,225.63 379.99,226 381.88,226.37 383.77,226.72 385.66,227.07 387.54,227.39 389.43,227.71 391.32,228 393.21,228.28 395.1,228.54 396.99,228.77 398.88,228.98 400.77,229.16 402.65,229.32 404.54,229.45 406.43,229.54 408.32,229.6 410.21,229.63 412.1,229.63 413.99,229.6 415.88,229.55 417.76,229.48 419.65,229.38 421.54,229.28 423.43,229.16 425.32,229.04 427.21,228.91 429.1,228.77 430.99,228.61 432.87,228.44 434.76,228.26 436.65,228.06 438.54,227.84 440.43,227.6 442.32,227.34 444.21,227.07 446.1,226.79 447.98,226.5 449.87,226.21 451.76,225.92 453.65,225.63 455.54,225.35 457.43,225.08 459.32,224.81 461.21,224.54 463.09,224.27 464.98,223.99 466.87,223.71 468.76,223.42 470.65,223.12 472.54,222.81 474.43,222.49 476.31,222.17 478.2,221.83 480.09,221.48 481.98,221.13 483.87,220.77 485.76,220.41 487.65,220.04 489.54,219.67 491.43,219.29 493.31,218.9 495.2,218.5 497.09,218.1 498.98,217.68 500.87,217.26 502.76,216.83 504.65,216.39 506.53,215.93 508.42,215.46 510.31,214.97 512.2,214.46 514.09,213.93 515.98,213.38 517.87,212.8 519.76,212.19 521.64,211.55 523.53,210.88 525.42,210.17 527.31,209.42 529.2,208.63 531.09,207.8 532.98,206.91 534.87,205.98 536.75,204.99 538.64,203.95 540.53,202.85 542.42,201.69 544.31,200.47 546.2,199.18 548.09,197.84 549.98,196.46 551.87,195.06 553.75,193.64 555.64,192.22 557.53,190.81 559.42,189.43 561.31,188.08 563.2,186.78 565.09,185.52 566.97,184.3 568.86,183.13 570.75,182.01 572.64,180.95 574.53,179.94 576.42,178.98 578.31,178.09 580.2,177.25 582.09,176.47 583.97,175.75 585.86,175.1 587.75,174.51 589.64,173.98 591.53,173.51 593.42,173.12 595.31,172.79 597.19,172.55 599.08,172.38 600.97,172.31 602.86,172.32 604.75,172.43 606.64,172.64 608.53,172.94 610.42,173.34 612.3,173.83 614.19,174.4 616.08,175.06 617.97,175.81 619.86,176.62 621.75,177.52 623.64,178.49 625.53,179.55 627.41,180.68 629.3,181.91 631.19,183.22 633.08,184.62 634.97,186.12 636.86,187.71 638.75,189.39 640.64,191.14 642.52,192.96 644.41,194.83 646.3,196.75 648.19,198.71 650.08,200.69 651.97,202.68 653.86,204.67 655.75,206.65 657.63,208.61 659.52,210.52 661.41,212.39 663.3,214.19 665.19,215.92 667.08,217.55 668.97,219.09 670.86,220.51 672.75,221.8 674.63,222.94 676.52,223.94 678.41,224.76 680.3,225.41"/>
<polyline fill="none" stroke="#000" stroke-opacity="0.5" stroke-width="1.3" stroke-dasharray="5.4 3.8" points="378.1,225.63 379.99,226 381.88,226.37 383.77,226.72 385.66,227.07 387.54,227.39 389.43,227.71 391.32,228 393.21,228.28 395.1,228.54 396.99,228.77 398.88,228.98 400.77,229.16 402.65,229.32 404.54,229.45 406.43,229.54 408.32,229.6 410.21,229.63 412.1,229.63 413.99,229.6 415.88,229.55 417.76,229.48 419.65,229.38 421.54,229.28 423.43,229.16 425.32,229.04 427.21,228.91 429.1,228.77 430.99,228.61 432.87,228.44 434.76,228.26 436.65,228.06 438.54,227.84 440.43,227.6 442.32,227.34 444.21,227.07 446.1,226.79 447.98,226.5 449.87,226.21 451.76,225.92 453.65,225.63 455.54,225.35 457.43,225.08 459.32,224.81 461.21,224.54 463.09,224.27 464.98,223.99 466.87,223.71 468.76,223.42 470.65,223.12 472.54,222.81 474.43,222.49 476.31,222.17 478.2,221.83 480.09,221.48 481.98,221.13 483.87,220.77 485.76,220.41 487.65,220.04 489.54,219.67 491.43,219.29 493.31,218.9 495.2,218.5 497.09,218.1 498.98,217.68 500.87,217.26 502.76,216.83 504.65,216.39 506.53,215.93 508.42,215.46 510.31,214.97 512.2,214.46 514.09,213.93 515.98,213.38 517.87,212.8 519.76,212.19 521.64,211.55 523.53,210.88 525.42,210.17 527.31,209.42 529.2,208.63 531.09,207.8 532.98,206.91 534.87,205.98 536.75,204.99 538.64,203.95 540.53,202.85 542.42,201.69 544.31,200.47 546.2,199.18 548.09,197.84 549.98,196.46 551.87,195.06 553.75,193.64 555.64,192.22 557.53,190.81 559.42,189.43 561.31,188.08 563.2,186.78 565.09,185.52 566.97,184.3 568.86,183.13 570.75,182.01 572.64,180.95 574.53,179.94 576.42,178.98 578.31,178.09 580.2,177.25 582.09,176.47 583.97,175.75 585.86,175.1 587.75,174.51 589.64,173.98 591.53,173.51 593.42,173.12 595.31,172.79 597.19,172.55 599.08,172.38 600.97,172.31 602.86,172.32 604.75,172.43 606.64,172.64 608.53,172.94 610.42,173.34 612.3,173.83 614.19,174.4 616.08,175.06 617.97,175.81 619.86,176.62 621.75,177.52 623.64,178.49 625.53,179.55 627.41,180.68 629.3,181.91 631.19,183.22 633.08,184.62 634.97,186.12 636.86,187.71 638.75,189.39 640.64,191.14 642.52,192.96 644.41,194.83 646.3,196.75 648.19,198.71 650.08,200.69 651.97,202.68 653.86,204.67 655.75,206.65 657.63,208.61 659.52,210.52 661.41,212.39 663.3,214.19 665.19,215.92 667.08,217.55 668.97,219.09 670.86,220.51 672.75,221.8 674.63,222.94 676.52,223.94 678.41,224.76 680.3,225.41"/>
<polyline fill="none" stroke="#0000f0" stroke-width="1.4" stroke-dasharray="5.7 3.8" points="378.1,163.6 379.99,163.79 381.88,163.97 383.77,164.16 385.66,164.35 387.54,164.54 389.43,164.73 391.32,164.91 393.21,165.1 395.1,165.28 396.99,165.47 398.88,165.65 400.77,165.83 402.65,166 404.54,166.17 406.43,166.34 408.32,166.5 410.21,166.66 412.1,166.81 413.99,166.96 415.88,167.11 417.76,167.26 419.65,167.4 421.54,167.55 423.43,167.7 425.32,167.85 427.21,168.01 429.1,168.16 430.99,168.31 432.87,168.46 434.76,168.61 436.65,168.76 438.54,168.9 440.43,169.03 442.32,169.16 444.21,169.29 446.1,169.4 447.98,169.51 449.87,169.61 451.76,169.71 453.65,169.8 455.54,169.88 457.43,169.96 459.32,170.03 461.21,170.09 463.09,170.15 464.98,170.2 466.87,170.25 468.76,170.3 470.65,170.34 472.54,170.38 474.43,170.41 476.31,170.44 478.2,170.47 480.09,170.48 481.98,170.5 483.87,170.5 485.76,170.5 487.65,170.48 489.54,170.45 491.43,170.41 493.31,170.34 495.2,170.26 497.09,170.14 498.98,170 500.87,169.83 502.76,169.62 504.65,169.39 506.53,169.13 508.42,168.85 510.31,168.55 512.2,168.23 514.09,167.9 515.98,167.55 517.87,167.19 519.76,166.8 521.64,166.38 523.53,165.92 525.42,165.43 527.31,164.89 529.2,164.3 531.09,163.66 532.98,162.97 534.87,162.24 536.75,161.49 538.64,160.72 540.53,159.94 542.42,159.16 544.31,158.4 546.2,157.66 548.09,156.92 549.98,156.2 551.87,155.46 553.75,154.72 555.64,153.95 557.53,153.14 559.42,152.3 561.31,151.41 563.2,150.48 565.09,149.52 566.97,148.54 568.86,147.56 570.75,146.59 572.64,145.63 574.53,144.7 576.42,143.81 578.31,142.96 580.2,142.15 582.09,141.39 583.97,140.69 585.86,140.03 587.75,139.44 589.64,138.9 591.53,138.42 593.42,138.01 595.31,137.66 597.19,137.36 599.08,137.13 600.97,136.96 602.86,136.85 604.75,136.8 606.64,136.81 608.53,136.87 610.42,137 612.3,137.17 614.19,137.4 616.08,137.69 617.97,138.02 619.86,138.4 621.75,138.83 623.64,139.31 625.53,139.85 627.41,140.44 629.3,141.1 631.19,141.83 633.08,142.63 634.97,143.5 636.86,144.45 638.75,145.47 640.64,146.54 642.52,147.64 644.41,148.76 646.3,149.89 648.19,151.01 650.08,152.1 651.97,153.16 653.86,154.17 655.75,155.15 657.63,156.08 659.52,156.98 661.41,157.83 663.3,158.64 665.19,159.4 667.08,160.12 668.97,160.8 670.86,161.43 672.75,162.02 674.63,162.56 676.52,163.05 678.41,163.5 680.3,163.9"/>
<line x1="438.6" y1="10.4" x2="438.6" y2="275.3" stroke="#ffff40" stroke-width="1" stroke-dasharray="4 3"/>
<line x1="485.3" y1="10.4" x2="485.3" y2="275.3" stroke="#ffff40" stroke-width="1" stroke-dasharray="4 3"/>
<line x1="378.1" y1="253.23" x2="680.3" y2="253.23" stroke="#000" stroke-opacity="0.62" stroke-width="1" stroke-dasharray="1 3.29"/>
<line x1="378.1" y1="231.15" x2="680.3" y2="231.15" stroke="#000" stroke-opacity="0.62" stroke-width="1" stroke-dasharray="1 3.29"/>
<line x1="378.1" y1="209.07" x2="680.3" y2="209.07" stroke="#000" stroke-opacity="0.62" stroke-width="1" stroke-dasharray="1 3.29"/>
<line x1="378.1" y1="187" x2="680.3" y2="187" stroke="#000" stroke-opacity="0.62" stroke-width="1" stroke-dasharray="1 3.29"/>
<line x1="378.1" y1="164.93" x2="680.3" y2="164.93" stroke="#000" stroke-opacity="0.62" stroke-width="1" stroke-dasharray="1 3.29"/>
<line x1="378.1" y1="142.85" x2="680.3" y2="142.85" stroke="#000" stroke-opacity="0.62" stroke-width="1" stroke-dasharray="1 3.29"/>
<line x1="378.1" y1="120.77" x2="680.3" y2="120.77" stroke="#000" stroke-opacity="0.62" stroke-width="1" stroke-dasharray="1 3.29"/>
<line x1="378.1" y1="98.7" x2="680.3" y2="98.7" stroke="#000" stroke-opacity="0.62" stroke-width="1" stroke-dasharray="1 3.29"/>
<line x1="378.1" y1="76.62" x2="680.3" y2="76.62" stroke="#000" stroke-opacity="0.62" stroke-width="1" stroke-dasharray="1 3.29"/>
<line x1="378.1" y1="54.55" x2="680.3" y2="54.55" stroke="#000" stroke-opacity="0.62" stroke-width="1" stroke-dasharray="1 3.29"/>
<line x1="378.1" y1="32.47" x2="680.3" y2="32.47" stroke="#000" stroke-opacity="0.62" stroke-width="1" stroke-dasharray="1 3.29"/>
<line x1="459.54" y1="155.43" x2="459.54" y2="181.7" stroke="#000" stroke-width="1.15"/>
<line x1="456.54" y1="155.43" x2="462.54" y2="155.43" stroke="#000" stroke-width="1.15"/>
<line x1="456.54" y1="181.7" x2="462.54" y2="181.7" stroke="#000" stroke-width="1.15"/>
<circle cx="459.54" cy="166.69" r="3.2" fill="#000"/>
</g>
<path d="M378.1,275.3h10M680.3,275.3h-10M378.1,269.78h5M680.3,269.78h-5M378.1,264.26h5M680.3,264.26h-5M378.1,258.74h5M680.3,258.74h-5M378.1,253.23h10M680.3,253.23h-10M378.1,247.71h5M680.3,247.71h-5M378.1,242.19h5M680.3,242.19h-5M378.1,236.67h5M680.3,236.67h-5M378.1,231.15h10M680.3,231.15h-10M378.1,225.63h5M680.3,225.63h-5M378.1,220.11h5M680.3,220.11h-5M378.1,214.59h5M680.3,214.59h-5M378.1,209.07h10M680.3,209.07h-10M378.1,203.56h5M680.3,203.56h-5M378.1,198.04h5M680.3,198.04h-5M378.1,192.52h5M680.3,192.52h-5M378.1,187h10M680.3,187h-10M378.1,181.48h5M680.3,181.48h-5M378.1,175.96h5M680.3,175.96h-5M378.1,170.44h5M680.3,170.44h-5M378.1,164.93h10M680.3,164.93h-10M378.1,159.41h5M680.3,159.41h-5M378.1,153.89h5M680.3,153.89h-5M378.1,148.37h5M680.3,148.37h-5M378.1,142.85h10M680.3,142.85h-10M378.1,137.33h5M680.3,137.33h-5M378.1,131.81h5M680.3,131.81h-5M378.1,126.29h5M680.3,126.29h-5M378.1,120.77h10M680.3,120.77h-10M378.1,115.26h5M680.3,115.26h-5M378.1,109.74h5M680.3,109.74h-5M378.1,104.22h5M680.3,104.22h-5M378.1,98.7h10M680.3,98.7h-10M378.1,93.18h5M680.3,93.18h-5M378.1,87.66h5M680.3,87.66h-5M378.1,82.14h5M680.3,82.14h-5M378.1,76.62h10M680.3,76.62h-10M378.1,71.11h5M680.3,71.11h-5M378.1,65.59h5M680.3,65.59h-5M378.1,60.07h5M680.3,60.07h-5M378.1,54.55h10M680.3,54.55h-10M378.1,49.03h5M680.3,49.03h-5M378.1,43.51h5M680.3,43.51h-5M378.1,37.99h5M680.3,37.99h-5M378.1,32.47h10M680.3,32.47h-10M378.1,26.96h5M680.3,26.96h-5M378.1,21.44h5M680.3,21.44h-5M378.1,15.92h5M680.3,15.92h-5M378.1,10.4h10M680.3,10.4h-10M378.1,10.4v10M378.1,275.3v-10M393.21,10.4v5M393.21,275.3v-5M408.32,10.4v5M408.32,275.3v-5M423.43,10.4v5M423.43,275.3v-5M438.54,10.4v5M438.54,275.3v-5M453.65,10.4v10M453.65,275.3v-10M468.76,10.4v5M468.76,275.3v-5M483.87,10.4v5M483.87,275.3v-5M498.98,10.4v5M498.98,275.3v-5M514.09,10.4v5M514.09,275.3v-5M529.2,10.4v10M529.2,275.3v-10M544.31,10.4v5M544.31,275.3v-5M559.42,10.4v5M559.42,275.3v-5M574.53,10.4v5M574.53,275.3v-5M589.64,10.4v5M589.64,275.3v-5M604.75,10.4v10M604.75,275.3v-10M619.86,10.4v5M619.86,275.3v-5M634.97,10.4v5M634.97,275.3v-5M650.08,10.4v5M650.08,275.3v-5M665.19,10.4v5M665.19,275.3v-5M680.3,10.4v10M680.3,275.3v-10" stroke="#000" stroke-width="1" fill="none"/>
<rect x="378.1" y="10.4" width="302.2" height="264.9" fill="none" stroke="#000" stroke-width="1.1"/>
<text x="648" y="28.2" font-family="Liberation Serif" font-size="16">(b)</text>
<text x="552.5" y="247" font-family="Liberation Serif" font-size="15.1">True MO: Inverted</text>
<clipPath id="clipc"><rect x="59.5" y="292.5" width="302.4" height="265.3"/></clipPath>
<g clip-path="url(#clipc)">
<rect x="59.5" y="292.5" width="37.5" height="265.3" fill="#ffff00"/>
<rect x="356.0" y="292.5" width="5.9" height="265.3" fill="#ffff00"/>
<polygon fill="#d9d9d9" points="59.5,404.5 61.39,404.4 63.28,404.19 65.17,403.86 67.06,403.45 68.95,402.94 70.84,402.36 72.73,401.71 74.62,401 76.51,400.24 78.4,399.45 80.29,398.62 82.18,397.78 84.07,396.92 85.96,396.07 87.85,395.23 89.74,394.4 91.63,393.6 93.52,392.83 95.41,392.09 97.3,391.37 99.19,390.67 101.08,389.99 102.97,389.34 104.86,388.7 106.75,388.08 108.64,387.49 110.53,386.91 112.42,386.37 114.31,385.87 116.2,385.4 118.09,384.98 119.98,384.6 121.87,384.27 123.76,384 125.65,383.78 127.54,383.61 129.43,383.5 131.32,383.44 133.21,383.44 135.1,383.5 136.99,383.61 138.88,383.79 140.77,384.02 142.66,384.31 144.55,384.66 146.44,385.08 148.33,385.56 150.22,386.1 152.11,386.71 154,387.39 155.89,388.14 157.78,388.96 159.67,389.87 161.56,390.86 163.45,391.93 165.34,393.1 167.23,394.36 169.12,395.69 171.01,397.08 172.9,398.5 174.79,399.95 176.68,401.39 178.57,402.81 180.46,404.2 182.35,405.53 184.24,406.81 186.13,408.04 188.02,409.21 189.91,410.35 191.8,411.44 193.69,412.49 195.58,413.5 197.47,414.48 199.36,415.42 201.25,416.3 203.14,417.14 205.03,417.91 206.92,418.62 208.81,419.25 210.7,419.8 212.59,420.26 214.48,420.65 216.37,420.96 218.26,421.22 220.15,421.44 222.04,421.61 223.93,421.76 225.82,421.9 227.71,422.03 229.6,422.15 231.49,422.26 233.38,422.35 235.27,422.42 237.16,422.48 239.05,422.5 240.94,422.5 242.83,422.47 244.72,422.4 246.61,422.3 248.5,422.18 250.39,422.02 252.28,421.84 254.17,421.63 256.06,421.4 257.95,421.14 259.84,420.86 261.73,420.57 263.62,420.26 265.51,419.95 267.4,419.63 269.29,419.31 271.18,419 273.07,418.7 274.96,418.4 276.85,418.11 278.74,417.83 280.63,417.55 282.52,417.27 284.41,416.98 286.3,416.7 288.19,416.41 290.08,416.12 291.97,415.83 293.86,415.53 295.75,415.23 297.64,414.92 299.53,414.61 301.42,414.3 303.31,413.99 305.2,413.67 307.09,413.36 308.98,413.05 310.87,412.75 312.76,412.45 314.65,412.17 316.54,411.9 318.43,411.65 320.32,411.4 322.21,411.17 324.1,410.94 325.99,410.71 327.88,410.48 329.77,410.25 331.66,410 333.55,409.74 335.44,409.48 337.33,409.2 339.22,408.92 341.11,408.64 343,408.35 344.89,408.07 346.78,407.8 348.67,407.53 350.56,407.28 352.45,407.03 354.34,406.8 356.23,406.59 358.12,406.41 360.01,406.24 361.9,406.1 361.9,457.5 360.01,457.62 358.12,457.74 356.23,457.87 354.34,458.01 352.45,458.15 350.56,458.3 348.67,458.45 346.78,458.6 344.89,458.75 343,458.91 341.11,459.06 339.22,459.22 337.33,459.37 335.44,459.52 333.55,459.66 331.66,459.8 329.77,459.94 327.88,460.07 325.99,460.2 324.1,460.34 322.21,460.49 320.32,460.64 318.43,460.81 316.54,461 314.65,461.21 312.76,461.43 310.87,461.65 308.98,461.88 307.09,462.11 305.2,462.33 303.31,462.52 301.42,462.7 299.53,462.85 297.64,462.97 295.75,463.07 293.86,463.16 291.97,463.23 290.08,463.29 288.19,463.35 286.3,463.4 284.41,463.46 282.52,463.51 280.63,463.58 278.74,463.65 276.85,463.72 274.96,463.8 273.07,463.9 271.18,464 269.29,464.11 267.4,464.24 265.51,464.37 263.62,464.51 261.73,464.65 259.84,464.8 257.95,464.95 256.06,465.1 254.17,465.25 252.28,465.39 250.39,465.52 248.5,465.62 246.61,465.7 244.72,465.74 242.83,465.74 240.94,465.7 239.05,465.6 237.16,465.46 235.27,465.28 233.38,465.06 231.49,464.82 229.6,464.55 227.71,464.28 225.82,464 223.93,463.72 222.04,463.43 220.15,463.11 218.26,462.76 216.37,462.35 214.48,461.88 212.59,461.34 210.7,460.7 208.81,459.96 206.92,459.13 205.03,458.21 203.14,457.22 201.25,456.17 199.36,455.05 197.47,453.89 195.58,452.7 193.69,451.48 191.8,450.23 189.91,448.95 188.02,447.65 186.13,446.33 184.24,444.98 182.35,443.6 180.46,442.2 178.57,440.78 176.68,439.34 174.79,437.9 172.9,436.48 171.01,435.07 169.12,433.7 167.23,432.37 165.34,431.1 163.45,429.89 161.56,428.76 159.67,427.69 157.78,426.7 155.89,425.79 154,424.94 152.11,424.18 150.22,423.5 148.33,422.9 146.44,422.37 144.55,421.92 142.66,421.53 140.77,421.2 138.88,420.92 136.99,420.69 135.1,420.5 133.21,420.35 131.32,420.26 129.43,420.25 127.54,420.33 125.65,420.53 123.76,420.86 121.87,421.34 119.98,422 118.09,422.84 116.2,423.84 114.31,424.94 112.42,426.12 110.53,427.32 108.64,428.52 106.75,429.66 104.86,430.7 102.97,431.62 101.08,432.45 99.19,433.23 97.3,434 95.41,434.79 93.52,435.67 91.63,436.65 89.74,437.8 87.85,439.13 85.96,440.62 84.07,442.23 82.18,443.91 80.29,445.63 78.4,447.35 76.51,449.02 74.62,450.6 72.73,452.06 70.84,453.35 68.95,454.43 67.06,455.27 65.17,455.81 63.28,456.02 61.39,455.87 59.5,455.3"/>
<polygon fill="#ffa500" points="59.5,413.2 61.39,413.4 63.28,413.41 65.17,413.24 67.06,412.9 68.95,412.42 70.84,411.82 72.73,411.11 74.62,410.3 76.51,409.42 78.4,408.48 80.29,407.5 82.18,406.5 84.07,405.49 85.96,404.49 87.85,403.52 89.74,402.6 91.63,401.74 93.52,400.93 95.41,400.17 97.3,399.46 99.19,398.78 101.08,398.13 102.97,397.51 104.86,396.9 106.75,396.3 108.64,395.72 110.53,395.16 112.42,394.62 114.31,394.11 116.2,393.64 118.09,393.2 119.98,392.8 121.87,392.45 123.76,392.15 125.65,391.89 127.54,391.69 129.43,391.54 131.32,391.44 133.21,391.39 135.1,391.4 136.99,391.46 138.88,391.59 140.77,391.77 142.66,392.02 144.55,392.33 146.44,392.71 148.33,393.17 150.22,393.7 152.11,394.31 154,394.99 155.89,395.76 157.78,396.59 159.67,397.51 161.56,398.5 163.45,399.56 165.34,400.7 167.23,401.91 169.12,403.18 171.01,404.49 172.9,405.83 174.79,407.19 176.68,408.54 178.57,409.89 180.46,411.2 182.35,412.47 184.24,413.71 186.13,414.9 188.02,416.07 189.91,417.21 191.8,418.32 193.69,419.42 195.58,420.5 197.47,421.57 199.36,422.61 201.25,423.62 203.14,424.58 205.03,425.48 206.92,426.31 208.81,427.05 210.7,427.7 212.59,428.24 214.48,428.69 216.37,429.05 218.26,429.34 220.15,429.58 222.04,429.78 223.93,429.95 225.82,430.1 227.71,430.25 229.6,430.39 231.49,430.53 233.38,430.65 235.27,430.75 237.16,430.83 239.05,430.88 240.94,430.9 242.83,430.89 244.72,430.84 246.61,430.77 248.5,430.67 250.39,430.56 252.28,430.42 254.17,430.26 256.06,430.1 257.95,429.93 259.84,429.74 261.73,429.55 263.62,429.34 265.51,429.13 267.4,428.9 269.29,428.66 271.18,428.4 273.07,428.13 274.96,427.85 276.85,427.55 278.74,427.25 280.63,426.94 282.52,426.63 284.41,426.32 286.3,426 288.19,425.69 290.08,425.37 291.97,425.07 293.86,424.76 295.75,424.46 297.64,424.17 299.53,423.88 301.42,423.6 303.31,423.33 305.2,423.06 307.09,422.8 308.98,422.55 310.87,422.31 312.76,422.07 314.65,421.83 316.54,421.6 318.43,421.37 320.32,421.15 322.21,420.93 324.1,420.71 325.99,420.48 327.88,420.26 329.77,420.03 331.66,419.8 333.55,419.56 335.44,419.32 337.33,419.07 339.22,418.82 341.11,418.57 343,418.31 344.89,418.06 346.78,417.8 348.67,417.54 350.56,417.29 352.45,417.03 354.34,416.78 356.23,416.53 358.12,416.28 360.01,416.04 361.9,415.8 361.9,449.9 360.01,450.1 358.12,450.31 356.23,450.52 354.34,450.74 352.45,450.95 350.56,451.17 348.67,451.38 346.78,451.6 344.89,451.81 343,452.03 341.11,452.23 339.22,452.44 337.33,452.64 335.44,452.83 333.55,453.02 331.66,453.2 329.77,453.37 327.88,453.54 325.99,453.71 324.1,453.87 322.21,454.04 320.32,454.22 318.43,454.4 316.54,454.6 314.65,454.81 312.76,455.03 310.87,455.26 308.98,455.49 307.09,455.71 305.2,455.92 303.31,456.12 301.42,456.3 299.53,456.46 297.64,456.59 295.75,456.71 293.86,456.83 291.97,456.94 290.08,457.05 288.19,457.17 286.3,457.3 284.41,457.45 282.52,457.61 280.63,457.78 278.74,457.96 276.85,458.15 274.96,458.34 273.07,458.52 271.18,458.7 269.29,458.87 267.4,459.04 265.51,459.19 263.62,459.34 261.73,459.49 259.84,459.63 257.95,459.77 256.06,459.9 254.17,460.03 252.28,460.15 250.39,460.26 248.5,460.36 246.61,460.43 244.72,460.49 242.83,460.51 240.94,460.5 239.05,460.46 237.16,460.38 235.27,460.27 233.38,460.12 231.49,459.95 229.6,459.76 227.71,459.54 225.82,459.3 223.93,459.04 222.04,458.75 220.15,458.43 218.26,458.06 216.37,457.64 214.48,457.16 212.59,456.62 210.7,456 208.81,455.3 206.92,454.53 205.03,453.68 203.14,452.77 201.25,451.8 199.36,450.78 197.47,449.71 195.58,448.6 193.69,447.45 191.8,446.28 189.91,445.07 188.02,443.83 186.13,442.56 184.24,441.26 182.35,439.94 180.46,438.6 178.57,437.24 176.68,435.86 174.79,434.49 172.9,433.14 171.01,431.81 169.12,430.52 167.23,429.28 165.34,428.1 163.45,427 161.56,425.96 159.67,425 157.78,424.1 155.89,423.27 154,422.49 152.11,421.77 150.22,421.1 148.33,420.48 146.44,419.92 144.55,419.41 142.66,418.96 140.77,418.57 138.88,418.24 136.99,417.99 135.1,417.8 133.21,417.69 131.32,417.65 129.43,417.69 127.54,417.81 125.65,418.01 123.76,418.29 121.87,418.65 119.98,419.1 118.09,419.63 116.2,420.23 114.31,420.9 112.42,421.63 110.53,422.4 108.64,423.21 106.75,424.05 104.86,424.9 102.97,425.77 101.08,426.65 99.19,427.57 97.3,428.52 95.41,429.53 93.52,430.61 91.63,431.76 89.74,433 87.85,434.33 85.96,435.74 84.07,437.19 82.18,438.65 80.29,440.12 78.4,441.55 76.51,442.92 74.62,444.2 72.73,445.37 70.84,446.4 68.95,447.27 67.06,447.95 65.17,448.4 63.28,448.61 61.39,448.56 59.5,448.2"/>
<rect x="59.5" y="487.89" width="302.4" height="7.38" fill="#0000ff"/>
<polyline fill="none" stroke="#00ff00" stroke-width="4.2" stroke-linejoin="round" points="59.5,506.51 61.39,505.22 63.28,503.88 65.17,502.5 67.06,501.07 68.95,499.59 70.84,498.05 72.73,496.45 74.62,494.79 76.51,493.06 78.4,491.27 80.29,489.4 82.18,487.46 84.07,485.44 85.96,483.34 87.85,481.15 89.74,478.87 91.63,476.51 93.52,474.1 95.41,471.66 97.3,469.23 99.19,466.84 101.08,464.54 102.97,462.35 104.86,460.3 106.75,458.43 108.64,456.73 110.53,455.2 112.42,453.82 114.31,452.59 116.2,451.49 118.09,450.53 119.98,449.69 121.87,448.96 123.76,448.34 125.65,447.83 127.54,447.41 129.43,447.08 131.32,446.84 133.21,446.68 135.1,446.6 136.99,446.58 138.88,446.65 140.77,446.8 142.66,447.04 144.55,447.38 146.44,447.82 148.33,448.36 150.22,449.03 152.11,449.81 154,450.7 155.89,451.7 157.78,452.79 159.67,453.96 161.56,455.2 163.45,456.51 165.34,457.87 167.23,459.27 169.12,460.71 171.01,462.18 172.9,463.66 174.79,465.15 176.68,466.64 178.57,468.12 180.46,469.59 182.35,471.03 184.24,472.49 186.13,474.01 188.02,475.64 189.91,477.41 191.8,479.34 193.69,481.38 195.58,483.44 197.47,485.43 199.36,487.27 201.25,488.95 203.14,490.47 205.03,491.82 206.92,493.02 208.81,494.12 210.7,495.16 212.59,496.18 214.48,497.19 216.37,498.15 218.26,499.03 220.15,499.79 222.04,500.42 223.93,500.96 225.82,501.47 227.71,501.96 229.6,502.44 231.49,502.91 233.38,503.32 235.27,503.68 237.16,503.98 239.05,504.25 240.94,504.52 242.83,504.79 244.72,505.08 246.61,505.37 248.5,505.66 250.39,505.94 252.28,506.22 254.17,506.48 256.06,506.73 257.95,506.96 259.84,507.17 261.73,507.36 263.62,507.55 265.51,507.73 267.4,507.91 269.29,508.09 271.18,508.28 273.07,508.47 274.96,508.68 276.85,508.88 278.74,509.09 280.63,509.29 282.52,509.48 284.41,509.66 286.3,509.82 288.19,509.97 290.08,510.1 291.97,510.22 293.86,510.33 295.75,510.42 297.64,510.52 299.53,510.61 301.42,510.71 303.31,510.81 305.2,510.91 307.09,511.02 308.98,511.13 310.87,511.25 312.76,511.36 314.65,511.48 316.54,511.59 318.43,511.71 320.32,511.82 322.21,511.93 324.1,512.03 325.99,512.11 327.88,512.18 329.77,512.23 331.66,512.26 333.55,512.26 335.44,512.23 337.33,512.17 339.22,512.08 341.11,511.96 343,511.8 344.89,511.61 346.78,511.37 348.67,511.1 350.56,510.78 352.45,510.41 354.34,510 356.23,509.54 358.12,509.02 360.01,508.46 361.9,507.84"/>
<polyline fill="none" stroke="#000" stroke-opacity="0.5" stroke-width="1.3" stroke-dasharray="5.4 3.8" points="59.5,506.51 61.39,505.22 63.28,503.88 65.17,502.5 67.06,501.07 68.95,499.59 70.84,498.05 72.73,496.45 74.62,494.79 76.51,493.06 78.4,491.27 80.29,489.4 82.18,487.46 84.07,485.44 85.96,483.34 87.85,481.15 89.74,478.87 91.63,476.51 93.52,474.1 95.41,471.66 97.3,469.23 99.19,466.84 101.08,464.54 102.97,462.35 104.86,460.3 106.75,458.43 108.64,456.73 110.53,455.2 112.42,453.82 114.31,452.59 116.2,451.49 118.09,450.53 119.98,449.69 121.87,448.96 123.76,448.34 125.65,447.83 127.54,447.41 129.43,447.08 131.32,446.84 133.21,446.68 135.1,446.6 136.99,446.58 138.88,446.65 140.77,446.8 142.66,447.04 144.55,447.38 146.44,447.82 148.33,448.36 150.22,449.03 152.11,449.81 154,450.7 155.89,451.7 157.78,452.79 159.67,453.96 161.56,455.2 163.45,456.51 165.34,457.87 167.23,459.27 169.12,460.71 171.01,462.18 172.9,463.66 174.79,465.15 176.68,466.64 178.57,468.12 180.46,469.59 182.35,471.03 184.24,472.49 186.13,474.01 188.02,475.64 189.91,477.41 191.8,479.34 193.69,481.38 195.58,483.44 197.47,485.43 199.36,487.27 201.25,488.95 203.14,490.47 205.03,491.82 206.92,493.02 208.81,494.12 210.7,495.16 212.59,496.18 214.48,497.19 216.37,498.15 218.26,499.03 220.15,499.79 222.04,500.42 223.93,500.96 225.82,501.47 227.71,501.96 229.6,502.44 231.49,502.91 233.38,503.32 235.27,503.68 237.16,503.98 239.05,504.25 240.94,504.52 242.83,504.79 244.72,505.08 246.61,505.37 248.5,505.66 250.39,505.94 252.28,506.22 254.17,506.48 256.06,506.73 257.95,506.96 259.84,507.17 261.73,507.36 263.62,507.55 265.51,507.73 267.4,507.91 269.29,508.09 271.18,508.28 273.07,508.47 274.96,508.68 276.85,508.88 278.74,509.09 280.63,509.29 282.52,509.48 284.41,509.66 286.3,509.82 288.19,509.97 290.08,510.1 291.97,510.22 293.86,510.33 295.75,510.42 297.64,510.52 299.53,510.61 301.42,510.71 303.31,510.81 305.2,510.91 307.09,511.02 308.98,511.13 310.87,511.25 312.76,511.36 314.65,511.48 316.54,511.59 318.43,511.71 320.32,511.82 322.21,511.93 324.1,512.03 325.99,512.11 327.88,512.18 329.77,512.23 331.66,512.26 333.55,512.26 335.44,512.23 337.33,512.17 339.22,512.08 341.11,511.96 343,511.8 344.89,511.61 346.78,511.37 348.67,511.1 350.56,510.78 352.45,510.41 354.34,510 356.23,509.54 358.12,509.02 360.01,508.46 361.9,507.84"/>
<polyline fill="none" stroke="#0000f0" stroke-width="1.4" stroke-dasharray="5.7 3.8" points="59.5,431 61.39,430.64 63.28,430.13 65.17,429.49 67.06,428.74 68.95,427.9 70.84,426.96 72.73,425.96 74.62,424.9 76.51,423.8 78.4,422.68 80.29,421.54 82.18,420.41 84.07,419.29 85.96,418.21 87.85,417.17 89.74,416.2 91.63,415.3 93.52,414.47 95.41,413.69 97.3,412.96 99.19,412.26 101.08,411.6 102.97,410.94 104.86,410.3 106.75,409.66 108.64,409.01 110.53,408.38 112.42,407.77 114.31,407.17 116.2,406.61 118.09,406.08 119.98,405.6 121.87,405.16 123.76,404.78 125.65,404.46 127.54,404.19 129.43,403.99 131.32,403.85 133.21,403.79 135.1,403.8 136.99,403.89 138.88,404.05 140.77,404.29 142.66,404.6 144.55,404.97 146.44,405.42 148.33,405.93 150.22,406.5 152.11,407.13 154,407.83 155.89,408.6 157.78,409.43 159.67,410.33 161.56,411.31 163.45,412.37 165.34,413.5 167.23,414.71 169.12,415.99 171.01,417.32 172.9,418.68 174.79,420.05 176.68,421.42 178.57,422.78 180.46,424.1 182.35,425.37 184.24,426.6 186.13,427.79 188.02,428.95 189.91,430.09 191.8,431.2 193.69,432.3 195.58,433.4 197.47,434.49 199.36,435.58 201.25,436.64 203.14,437.67 205.03,438.65 206.92,439.57 208.81,440.43 210.7,441.2 212.59,441.89 214.48,442.49 216.37,443.01 218.26,443.46 220.15,443.85 222.04,444.18 223.93,444.46 225.82,444.7 227.71,444.9 229.6,445.08 231.49,445.22 233.38,445.33 235.27,445.43 237.16,445.5 239.05,445.56 240.94,445.6 242.83,445.63 244.72,445.65 246.61,445.65 248.5,445.63 250.39,445.59 252.28,445.52 254.17,445.43 256.06,445.3 257.95,445.14 259.84,444.96 261.73,444.75 263.62,444.52 265.51,444.27 267.4,444.02 269.29,443.76 271.18,443.5 273.07,443.24 274.96,442.99 276.85,442.74 278.74,442.5 280.63,442.25 282.52,442 284.41,441.75 286.3,441.5 288.19,441.24 290.08,440.99 291.97,440.73 293.86,440.46 295.75,440.2 297.64,439.93 299.53,439.67 301.42,439.4 303.31,439.13 305.2,438.87 307.09,438.61 308.98,438.34 310.87,438.08 312.76,437.82 314.65,437.56 316.54,437.3 318.43,437.04 320.32,436.79 322.21,436.53 324.1,436.28 325.99,436.03 327.88,435.78 329.77,435.54 331.66,435.3 333.55,435.06 335.44,434.83 337.33,434.6 339.22,434.38 341.11,434.15 343,433.93 344.89,433.72 346.78,433.5 348.67,433.29 350.56,433.07 352.45,432.86 354.34,432.65 356.23,432.44 358.12,432.22 360.01,432.01 361.9,431.8"/>
<line x1="96.5" y1="292.5" x2="96.5" y2="557.8" stroke="#ffff40" stroke-width="1" stroke-dasharray="4 3"/>
<line x1="356.5" y1="292.5" x2="356.5" y2="557.8" stroke="#ffff40" stroke-width="1" stroke-dasharray="4 3"/>
<line x1="59.5" y1="535.69" x2="361.9" y2="535.69" stroke="#000" stroke-opacity="0.62" stroke-width="1" stroke-dasharray="1 3.29"/>
<line x1="59.5" y1="513.58" x2="361.9" y2="513.58" stroke="#000" stroke-opacity="0.62" stroke-width="1" stroke-dasharray="1 3.29"/>
<line x1="59.5" y1="491.47" x2="361.9" y2="491.47" stroke="#000" stroke-opacity="0.62" stroke-width="1" stroke-dasharray="1 3.29"/>
<line x1="59.5" y1="469.37" x2="361.9" y2="469.37" stroke="#000" stroke-opacity="0.62" stroke-width="1" stroke-dasharray="1 3.29"/>
<line x1="59.5" y1="447.26" x2="361.9" y2="447.26" stroke="#000" stroke-opacity="0.62" stroke-width="1" stroke-dasharray="1 3.29"/>
<line x1="59.5" y1="425.15" x2="361.9" y2="425.15" stroke="#000" stroke-opacity="0.62" stroke-width="1" stroke-dasharray="1 3.29"/>
<line x1="59.5" y1="403.04" x2="361.9" y2="403.04" stroke="#000" stroke-opacity="0.62" stroke-width="1" stroke-dasharray="1 3.29"/>
<line x1="59.5" y1="380.93" x2="361.9" y2="380.93" stroke="#000" stroke-opacity="0.62" stroke-width="1" stroke-dasharray="1 3.29"/>
<line x1="59.5" y1="358.82" x2="361.9" y2="358.82" stroke="#000" stroke-opacity="0.62" stroke-width="1" stroke-dasharray="1 3.29"/>
<line x1="59.5" y1="336.72" x2="361.9" y2="336.72" stroke="#000" stroke-opacity="0.62" stroke-width="1" stroke-dasharray="1 3.29"/>
<line x1="59.5" y1="314.61" x2="361.9" y2="314.61" stroke="#000" stroke-opacity="0.62" stroke-width="1" stroke-dasharray="1 3.29"/>
<line x1="73.11" y1="411.88" x2="73.11" y2="449.91" stroke="#000" stroke-width="1.15"/>
<line x1="70.11" y1="411.88" x2="76.11" y2="411.88" stroke="#000" stroke-width="1.15"/>
<line x1="70.11" y1="449.91" x2="76.11" y2="449.91" stroke="#000" stroke-width="1.15"/>
<circle cx="73.11" cy="432.67" r="3.2" fill="#000"/>
</g>
<path d="M59.5,557.8h10M361.9,557.8h-10M59.5,552.27h5M361.9,552.27h-5M59.5,546.75h5M361.9,546.75h-5M59.5,541.22h5M361.9,541.22h-5M59.5,535.69h10M361.9,535.69h-10M59.5,530.16h5M361.9,530.16h-5M59.5,524.64h5M361.9,524.64h-5M59.5,519.11h5M361.9,519.11h-5M59.5,513.58h10M361.9,513.58h-10M59.5,508.06h5M361.9,508.06h-5M59.5,502.53h5M361.9,502.53h-5M59.5,497h5M361.9,497h-5M59.5,491.47h10M361.9,491.47h-10M59.5,485.95h5M361.9,485.95h-5M59.5,480.42h5M361.9,480.42h-5M59.5,474.89h5M361.9,474.89h-5M59.5,469.37h10M361.9,469.37h-10M59.5,463.84h5M361.9,463.84h-5M59.5,458.31h5M361.9,458.31h-5M59.5,452.79h5M361.9,452.79h-5M59.5,447.26h10M361.9,447.26h-10M59.5,441.73h5M361.9,441.73h-5M59.5,436.2h5M361.9,436.2h-5M59.5,430.68h5M361.9,430.68h-5M59.5,425.15h10M361.9,425.15h-10M59.5,419.62h5M361.9,419.62h-5M59.5,414.1h5M361.9,414.1h-5M59.5,408.57h5M361.9,408.57h-5M59.5,403.04h10M361.9,403.04h-10M59.5,397.51h5M361.9,397.51h-5M59.5,391.99h5M361.9,391.99h-5M59.5,386.46h5M361.9,386.46h-5M59.5,380.93h10M361.9,380.93h-10M59.5,375.41h5M361.9,375.41h-5M59.5,369.88h5M361.9,369.88h-5M59.5,364.35h5M361.9,364.35h-5M59.5,358.82h10M361.9,358.82h-10M59.5,353.3h5M361.9,353.3h-5M59.5,347.77h5M361.9,347.77h-5M59.5,342.24h5M361.9,342.24h-5M59.5,336.72h10M361.9,336.72h-10M59.5,331.19h5M361.9,331.19h-5M59.5,325.66h5M361.9,325.66h-5M59.5,320.14h5M361.9,320.14h-5M59.5,314.61h10M361.9,314.61h-10M59.5,309.08h5M361.9,309.08h-5M59.5,303.55h5M361.9,303.55h-5M59.5,298.03h5M361.9,298.03h-5M59.5,292.5h10M361.9,292.5h-10M59.5,292.5v10M59.5,557.8v-10M74.62,292.5v5M74.62,557.8v-5M89.74,292.5v5M89.74,557.8v-5M104.86,292.5v5M104.86,557.8v-5M119.98,292.5v5M119.98,557.8v-5M135.1,292.5v10M135.1,557.8v-10M150.22,292.5v5M150.22,557.8v-5M165.34,292.5v5M165.34,557.8v-5M180.46,292.5v5M180.46,557.8v-5M195.58,292.5v5M195.58,557.8v-5M210.7,292.5v10M210.7,557.8v-10M225.82,292.5v5M225.82,557.8v-5M240.94,292.5v5M240.94,557.8v-5M256.06,292.5v5M256.06,557.8v-5M271.18,292.5v5M271.18,557.8v-5M286.3,292.5v10M286.3,557.8v-10M301.42,292.5v5M301.42,557.8v-5M316.54,292.5v5M316.54,557.8v-5M331.66,292.5v5M331.66,557.8v-5M346.78,292.5v5M346.78,557.8v-5M361.9,292.5v10M361.9,557.8v-10" stroke="#000" stroke-width="1" fill="none"/>
<rect x="59.5" y="292.5" width="302.4" height="265.3" fill="none" stroke="#000" stroke-width="1.1"/>
<text x="105.5" y="310.3" font-family="Liberation Serif" font-size="16">(c)</text>
<text x="103" y="530.1" font-family="Liberation Serif" font-size="15.1">True MO: Normal</text>
<clipPath id="clipd"><rect x="378.1" y="292.5" width="302.2" height="265.3"/></clipPath>
<g clip-path="url(#clipd)">
<rect x="438.1" y="292.5" width="47.7" height="265.3" fill="#ffff00"/>
<polygon fill="#d9d9d9" points="378.1,406.1 379.99,406.2 381.88,406.32 383.77,406.45 385.66,406.6 387.54,406.76 389.43,406.93 391.32,407.11 393.21,407.3 395.1,407.5 396.99,407.7 398.88,407.91 400.77,408.13 402.65,408.34 404.54,408.56 406.43,408.78 408.32,409 410.21,409.22 412.1,409.43 413.99,409.65 415.88,409.87 417.76,410.09 419.65,410.32 421.54,410.55 423.43,410.8 425.32,411.06 427.21,411.32 429.1,411.6 430.99,411.88 432.87,412.18 434.76,412.48 436.65,412.78 438.54,413.1 440.43,413.42 442.32,413.75 444.21,414.07 446.1,414.39 447.98,414.71 449.87,415.02 451.76,415.32 453.65,415.6 455.54,415.87 457.43,416.12 459.32,416.36 461.21,416.59 463.09,416.82 464.98,417.05 466.87,417.27 468.76,417.5 470.65,417.73 472.54,417.97 474.43,418.21 476.31,418.44 478.2,418.67 480.09,418.89 481.98,419.1 483.87,419.3 485.76,419.48 487.65,419.64 489.54,419.78 491.43,419.9 493.31,419.99 495.2,420.06 497.09,420.09 498.98,420.1 500.87,420.07 502.76,420.02 504.65,419.94 506.53,419.84 508.42,419.72 510.31,419.59 512.2,419.45 514.09,419.3 515.98,419.15 517.87,419 519.76,418.83 521.64,418.66 523.53,418.47 525.42,418.27 527.31,418.05 529.2,417.8 531.09,417.53 532.98,417.22 534.87,416.88 536.75,416.5 538.64,416.08 540.53,415.61 542.42,415.08 544.31,414.5 546.2,413.86 548.09,413.16 549.98,412.41 551.87,411.62 553.75,410.8 555.64,409.95 557.53,409.08 559.42,408.2 561.31,407.31 563.2,406.42 565.09,405.52 566.97,404.62 568.86,403.72 570.75,402.81 572.64,401.91 574.53,401 576.42,400.09 578.31,399.19 580.2,398.29 582.09,397.4 583.97,396.52 585.86,395.66 587.75,394.82 589.64,394 591.53,393.21 593.42,392.45 595.31,391.74 597.19,391.08 599.08,390.49 600.97,389.97 602.86,389.54 604.75,389.2 606.64,388.96 608.53,388.82 610.42,388.76 612.3,388.79 614.19,388.9 616.08,389.07 617.97,389.31 619.86,389.6 621.75,389.94 623.64,390.33 625.53,390.75 627.41,391.2 629.3,391.68 631.19,392.17 633.08,392.68 634.97,393.2 636.86,393.72 638.75,394.24 640.64,394.78 642.52,395.31 644.41,395.86 646.3,396.43 648.19,397 650.08,397.6 651.97,398.21 653.86,398.84 655.75,399.48 657.63,400.12 659.52,400.76 661.41,401.39 663.3,402 665.19,402.6 667.08,403.17 668.97,403.71 670.86,404.22 672.75,404.68 674.63,405.09 676.52,405.46 678.41,405.76 680.3,406 680.3,453.3 678.41,453.05 676.52,452.74 674.63,452.38 672.75,451.97 670.86,451.51 668.97,450.99 667.08,450.42 665.19,449.8 663.3,449.13 661.41,448.4 659.52,447.63 657.63,446.8 655.75,445.93 653.86,445 651.97,444.03 650.08,443 648.19,441.93 646.3,440.81 644.41,439.68 642.52,438.52 640.64,437.37 638.75,436.22 636.86,435.09 634.97,434 633.08,432.95 631.19,431.95 629.3,431.02 627.41,430.15 625.53,429.37 623.64,428.68 621.75,428.08 619.86,427.6 617.97,427.23 616.08,426.96 614.19,426.78 612.3,426.66 610.42,426.59 608.53,426.55 606.64,426.53 604.75,426.5 602.86,426.46 600.97,426.43 599.08,426.44 597.19,426.51 595.31,426.67 593.42,426.96 591.53,427.39 589.64,428 587.75,428.8 585.86,429.78 583.97,430.88 582.09,432.07 580.2,433.32 578.31,434.58 576.42,435.82 574.53,437 572.64,438.09 570.75,439.11 568.86,440.07 566.97,440.99 565.09,441.91 563.2,442.83 561.31,443.79 559.42,444.8 557.53,445.88 555.64,447.01 553.75,448.17 551.87,449.33 549.98,450.48 548.09,451.59 546.2,452.64 544.31,453.6 542.42,454.46 540.53,455.23 538.64,455.92 536.75,456.53 534.87,457.1 532.98,457.62 531.09,458.12 529.2,458.6 527.31,459.08 525.42,459.55 523.53,460 521.64,460.44 519.76,460.86 517.87,461.24 515.98,461.59 514.09,461.9 512.2,462.16 510.31,462.38 508.42,462.57 506.53,462.72 504.65,462.84 502.76,462.94 500.87,463.03 498.98,463.1 497.09,463.16 495.2,463.22 493.31,463.26 491.43,463.29 489.54,463.32 487.65,463.33 485.76,463.32 483.87,463.3 481.98,463.26 480.09,463.22 478.2,463.16 476.31,463.09 474.43,463.02 472.54,462.94 470.65,462.87 468.76,462.8 466.87,462.74 464.98,462.68 463.09,462.62 461.21,462.56 459.32,462.5 457.43,462.44 455.54,462.37 453.65,462.3 451.76,462.22 449.87,462.13 447.98,462.02 446.1,461.91 444.21,461.78 442.32,461.63 440.43,461.48 438.54,461.3 436.65,461.11 434.76,460.9 432.87,460.68 430.99,460.45 429.1,460.22 427.21,459.98 425.32,459.74 423.43,459.5 421.54,459.27 419.65,459.04 417.76,458.82 415.88,458.6 413.99,458.39 412.1,458.19 410.21,457.99 408.32,457.8 406.43,457.61 404.54,457.43 402.65,457.25 400.77,457.07 398.88,456.89 396.99,456.7 395.1,456.51 393.21,456.3 391.32,456.08 389.43,455.85 387.54,455.6 385.66,455.33 383.77,455.03 381.88,454.72 379.99,454.37 378.1,454"/>
<polygon fill="#ffa500" points="378.1,414.6 379.99,414.75 381.88,414.91 383.77,415.08 385.66,415.25 387.54,415.43 389.43,415.61 391.32,415.8 393.21,416 395.1,416.2 396.99,416.41 398.88,416.63 400.77,416.85 402.65,417.08 404.54,417.31 406.43,417.55 408.32,417.8 410.21,418.06 412.1,418.32 413.99,418.59 415.88,418.87 417.76,419.16 419.65,419.46 421.54,419.77 423.43,420.1 425.32,420.44 427.21,420.78 429.1,421.14 430.99,421.49 432.87,421.83 434.76,422.17 436.65,422.49 438.54,422.8 440.43,423.09 442.32,423.35 444.21,423.6 446.1,423.82 447.98,424.04 449.87,424.24 451.76,424.42 453.65,424.6 455.54,424.77 457.43,424.93 459.32,425.09 461.21,425.24 463.09,425.4 464.98,425.56 466.87,425.73 468.76,425.9 470.65,426.08 472.54,426.28 474.43,426.47 476.31,426.67 478.2,426.86 480.09,427.05 481.98,427.23 483.87,427.4 485.76,427.55 487.65,427.69 489.54,427.8 491.43,427.89 493.31,427.96 495.2,428 497.09,428.02 498.98,428 500.87,427.95 502.76,427.88 504.65,427.78 506.53,427.67 508.42,427.54 510.31,427.39 512.2,427.25 514.09,427.1 515.98,426.95 517.87,426.8 519.76,426.65 521.64,426.48 523.53,426.3 525.42,426.09 527.31,425.86 529.2,425.6 531.09,425.3 532.98,424.97 534.87,424.59 536.75,424.17 538.64,423.7 540.53,423.19 542.42,422.62 544.31,422 546.2,421.32 548.09,420.6 549.98,419.83 551.87,419.02 553.75,418.19 555.64,417.34 557.53,416.47 559.42,415.6 561.31,414.73 563.2,413.85 565.09,412.97 566.97,412.08 568.86,411.19 570.75,410.27 572.64,409.35 574.53,408.4 576.42,407.43 578.31,406.46 580.2,405.48 582.09,404.51 583.97,403.57 585.86,402.67 587.75,401.8 589.64,401 591.53,400.26 593.42,399.59 595.31,398.99 597.19,398.46 599.08,397.99 600.97,397.6 602.86,397.26 604.75,397 606.64,396.8 608.53,396.67 610.42,396.6 612.3,396.6 614.19,396.66 616.08,396.78 617.97,396.96 619.86,397.2 621.75,397.5 623.64,397.85 625.53,398.24 627.41,398.67 629.3,399.12 631.19,399.6 633.08,400.1 634.97,400.6 636.86,401.1 638.75,401.61 640.64,402.13 642.52,402.66 644.41,403.21 646.3,403.78 648.19,404.37 650.08,405 651.97,405.66 653.86,406.35 655.75,407.06 657.63,407.78 659.52,408.5 661.41,409.22 663.3,409.92 665.19,410.6 667.08,411.25 668.97,411.87 670.86,412.43 672.75,412.95 674.63,413.4 676.52,413.78 678.41,414.08 680.3,414.3 680.3,446.8 678.41,446.49 676.52,446.14 674.63,445.76 672.75,445.33 670.86,444.86 668.97,444.34 667.08,443.79 665.19,443.2 663.3,442.57 661.41,441.89 659.52,441.18 657.63,440.42 655.75,439.63 653.86,438.79 651.97,437.92 650.08,437 648.19,436.05 646.3,435.06 644.41,434.06 642.52,433.05 640.64,432.05 638.75,431.07 636.86,430.11 634.97,429.2 633.08,428.34 631.19,427.53 629.3,426.78 627.41,426.1 625.53,425.49 623.64,424.95 621.75,424.48 619.86,424.1 617.97,423.8 616.08,423.58 614.19,423.43 612.3,423.33 610.42,423.29 608.53,423.3 606.64,423.33 604.75,423.4 602.86,423.49 600.97,423.6 599.08,423.76 597.19,423.98 595.31,424.26 593.42,424.61 591.53,425.06 589.64,425.6 587.75,426.25 585.86,427 583.97,427.83 582.09,428.72 580.2,429.66 578.31,430.63 576.42,431.62 574.53,432.6 572.64,433.57 570.75,434.53 568.86,435.49 566.97,436.46 565.09,437.43 563.2,438.43 561.31,439.45 559.42,440.5 557.53,441.59 555.64,442.7 553.75,443.82 551.87,444.93 549.98,446.01 548.09,447.04 546.2,448.01 544.31,448.9 542.42,449.7 540.53,450.41 538.64,451.05 536.75,451.62 534.87,452.14 532.98,452.62 531.09,453.07 529.2,453.5 527.31,453.92 525.42,454.33 523.53,454.72 521.64,455.1 519.76,455.44 517.87,455.76 515.98,456.05 514.09,456.3 512.2,456.51 510.31,456.68 508.42,456.82 506.53,456.94 504.65,457.03 502.76,457.1 500.87,457.15 498.98,457.2 497.09,457.24 495.2,457.27 493.31,457.29 491.43,457.31 489.54,457.3 487.65,457.29 485.76,457.25 483.87,457.2 481.98,457.13 480.09,457.04 478.2,456.93 476.31,456.82 474.43,456.69 472.54,456.56 470.65,456.43 468.76,456.3 466.87,456.17 464.98,456.05 463.09,455.93 461.21,455.8 459.32,455.68 457.43,455.56 455.54,455.43 453.65,455.3 451.76,455.16 449.87,455.02 447.98,454.87 446.1,454.71 444.21,454.55 442.32,454.38 440.43,454.19 438.54,454 436.65,453.8 434.76,453.58 432.87,453.36 430.99,453.14 429.1,452.91 427.21,452.67 425.32,452.44 423.43,452.2 421.54,451.97 419.65,451.73 417.76,451.51 415.88,451.29 413.99,451.07 412.1,450.87 410.21,450.68 408.32,450.5 406.43,450.34 404.54,450.18 402.65,450.04 400.77,449.9 398.88,449.76 396.99,449.61 395.1,449.46 393.21,449.3 391.32,449.12 389.43,448.93 387.54,448.72 385.66,448.48 383.77,448.21 381.88,447.91 379.99,447.58 378.1,447.2"/>
<rect x="378.1" y="487.89" width="302.2" height="7.38" fill="#0000ff"/>
<polyline fill="none" stroke="#00ff00" stroke-width="4.2" stroke-linejoin="round" points="378.1,508.06 379.99,508.43 381.88,508.8 383.77,509.15 385.66,509.49 387.54,509.82 389.43,510.14 391.32,510.43 393.21,510.71 395.1,510.97 396.99,511.2 398.88,511.41 400.77,511.59 402.65,511.75 404.54,511.88 406.43,511.97 408.32,512.04 410.21,512.07 412.1,512.06 413.99,512.03 415.88,511.98 417.76,511.91 419.65,511.81 421.54,511.71 423.43,511.59 425.32,511.47 427.21,511.34 429.1,511.2 430.99,511.04 432.87,510.87 434.76,510.69 436.65,510.49 438.54,510.27 440.43,510.03 442.32,509.77 444.21,509.5 446.1,509.21 447.98,508.93 449.87,508.63 451.76,508.34 453.65,508.06 455.54,507.78 457.43,507.5 459.32,507.23 461.21,506.96 463.09,506.69 464.98,506.42 466.87,506.14 468.76,505.85 470.65,505.55 472.54,505.23 474.43,504.91 476.31,504.58 478.2,504.25 480.09,503.9 481.98,503.55 483.87,503.19 485.76,502.83 487.65,502.46 489.54,502.08 491.43,501.7 493.31,501.31 495.2,500.91 497.09,500.51 498.98,500.1 500.87,499.68 502.76,499.24 504.65,498.8 506.53,498.34 508.42,497.87 510.31,497.38 512.2,496.87 514.09,496.34 515.98,495.78 517.87,495.21 519.76,494.6 521.64,493.96 523.53,493.28 525.42,492.57 527.31,491.83 529.2,491.03 531.09,490.2 532.98,489.31 534.87,488.37 536.75,487.39 538.64,486.34 540.53,485.24 542.42,484.08 544.31,482.85 546.2,481.56 548.09,480.22 549.98,478.84 551.87,477.43 553.75,476.01 555.64,474.59 557.53,473.18 559.42,471.8 561.31,470.45 563.2,469.14 565.09,467.88 566.97,466.66 568.86,465.49 570.75,464.37 572.64,463.3 574.53,462.29 576.42,461.34 578.31,460.44 580.2,459.6 582.09,458.82 583.97,458.1 585.86,457.45 587.75,456.85 589.64,456.32 591.53,455.86 593.42,455.46 595.31,455.14 597.19,454.89 599.08,454.73 600.97,454.65 602.86,454.67 604.75,454.78 606.64,454.98 608.53,455.29 610.42,455.69 612.3,456.18 614.19,456.75 616.08,457.41 617.97,458.16 619.86,458.98 621.75,459.87 623.64,460.85 625.53,461.9 627.41,463.04 629.3,464.27 631.19,465.58 633.08,466.98 634.97,468.48 636.86,470.08 638.75,471.76 640.64,473.51 642.52,475.34 644.41,477.21 646.3,479.14 648.19,481.09 650.08,483.07 651.97,485.07 653.86,487.06 655.75,489.05 657.63,491.01 659.52,492.93 661.41,494.79 663.3,496.6 665.19,498.33 667.08,499.97 668.97,501.5 670.86,502.92 672.75,504.21 674.63,505.36 676.52,506.36 678.41,507.19 680.3,507.84"/>
<polyline fill="none" stroke="#000" stroke-opacity="0.5" stroke-width="1.3" stroke-dasharray="5.4 3.8" points="378.1,508.06 379.99,508.43 381.88,508.8 383.77,509.15 385.66,509.49 387.54,509.82 389.43,510.14 391.32,510.43 393.21,510.71 395.1,510.97 396.99,511.2 398.88,511.41 400.77,511.59 402.65,511.75 404.54,511.88 406.43,511.97 408.32,512.04 410.21,512.07 412.1,512.06 413.99,512.03 415.88,511.98 417.76,511.91 419.65,511.81 421.54,511.71 423.43,511.59 425.32,511.47 427.21,511.34 429.1,511.2 430.99,511.04 432.87,510.87 434.76,510.69 436.65,510.49 438.54,510.27 440.43,510.03 442.32,509.77 444.21,509.5 446.1,509.21 447.98,508.93 449.87,508.63 451.76,508.34 453.65,508.06 455.54,507.78 457.43,507.5 459.32,507.23 461.21,506.96 463.09,506.69 464.98,506.42 466.87,506.14 468.76,505.85 470.65,505.55 472.54,505.23 474.43,504.91 476.31,504.58 478.2,504.25 480.09,503.9 481.98,503.55 483.87,503.19 485.76,502.83 487.65,502.46 489.54,502.08 491.43,501.7 493.31,501.31 495.2,500.91 497.09,500.51 498.98,500.1 500.87,499.68 502.76,499.24 504.65,498.8 506.53,498.34 508.42,497.87 510.31,497.38 512.2,496.87 514.09,496.34 515.98,495.78 517.87,495.21 519.76,494.6 521.64,493.96 523.53,493.28 525.42,492.57 527.31,491.83 529.2,491.03 531.09,490.2 532.98,489.31 534.87,488.37 536.75,487.39 538.64,486.34 540.53,485.24 542.42,484.08 544.31,482.85 546.2,481.56 548.09,480.22 549.98,478.84 551.87,477.43 553.75,476.01 555.64,474.59 557.53,473.18 559.42,471.8 561.31,470.45 563.2,469.14 565.09,467.88 566.97,466.66 568.86,465.49 570.75,464.37 572.64,463.3 574.53,462.29 576.42,461.34 578.31,460.44 580.2,459.6 582.09,458.82 583.97,458.1 585.86,457.45 587.75,456.85 589.64,456.32 591.53,455.86 593.42,455.46 595.31,455.14 597.19,454.89 599.08,454.73 600.97,454.65 602.86,454.67 604.75,454.78 606.64,454.98 608.53,455.29 610.42,455.69 612.3,456.18 614.19,456.75 616.08,457.41 617.97,458.16 619.86,458.98 621.75,459.87 623.64,460.85 625.53,461.9 627.41,463.04 629.3,464.27 631.19,465.58 633.08,466.98 634.97,468.48 636.86,470.08 638.75,471.76 640.64,473.51 642.52,475.34 644.41,477.21 646.3,479.14 648.19,481.09 650.08,483.07 651.97,485.07 653.86,487.06 655.75,489.05 657.63,491.01 659.52,492.93 661.41,494.79 663.3,496.6 665.19,498.33 667.08,499.97 668.97,501.5 670.86,502.92 672.75,504.21 674.63,505.36 676.52,506.36 678.41,507.19 680.3,507.84"/>
<polyline fill="none" stroke="#0000f0" stroke-width="1.4" stroke-dasharray="5.7 3.8" points="378.1,431.3 379.99,431.45 381.88,431.6 383.77,431.76 385.66,431.92 387.54,432.08 389.43,432.25 391.32,432.43 393.21,432.6 395.1,432.78 396.99,432.96 398.88,433.14 400.77,433.33 402.65,433.52 404.54,433.71 406.43,433.9 408.32,434.1 410.21,434.3 412.1,434.5 413.99,434.71 415.88,434.92 417.76,435.15 419.65,435.38 421.54,435.63 423.43,435.9 425.32,436.18 427.21,436.48 429.1,436.79 430.99,437.1 432.87,437.42 434.76,437.75 436.65,438.08 438.54,438.4 440.43,438.72 442.32,439.03 444.21,439.33 446.1,439.63 447.98,439.92 449.87,440.19 451.76,440.45 453.65,440.7 455.54,440.93 457.43,441.16 459.32,441.37 461.21,441.57 463.09,441.76 464.98,441.94 466.87,442.12 468.76,442.3 470.65,442.47 472.54,442.64 474.43,442.81 476.31,442.96 478.2,443.1 480.09,443.22 481.98,443.32 483.87,443.4 485.76,443.46 487.65,443.49 489.54,443.51 491.43,443.51 493.31,443.49 495.2,443.47 497.09,443.44 498.98,443.4 500.87,443.36 502.76,443.32 504.65,443.26 506.53,443.18 508.42,443.09 510.31,442.96 512.2,442.8 514.09,442.6 515.98,442.36 517.87,442.08 519.76,441.76 521.64,441.42 523.53,441.06 525.42,440.68 527.31,440.29 529.2,439.9 531.09,439.51 532.98,439.11 534.87,438.7 536.75,438.26 538.64,437.79 540.53,437.28 542.42,436.72 544.31,436.1 546.2,435.41 548.09,434.66 549.98,433.85 551.87,432.98 553.75,432.06 555.64,431.08 557.53,430.06 559.42,429 561.31,427.9 563.2,426.77 565.09,425.62 566.97,424.46 568.86,423.31 570.75,422.18 572.64,421.07 574.53,420 576.42,418.98 578.31,418.01 580.2,417.09 582.09,416.22 583.97,415.41 585.86,414.65 587.75,413.95 589.64,413.3 591.53,412.71 593.42,412.18 595.31,411.71 597.19,411.3 599.08,410.95 600.97,410.67 602.86,410.45 604.75,410.3 606.64,410.22 608.53,410.2 610.42,410.24 612.3,410.33 614.19,410.48 616.08,410.68 617.97,410.92 619.86,411.2 621.75,411.52 623.64,411.87 625.53,412.27 627.41,412.71 629.3,413.2 631.19,413.75 633.08,414.34 634.97,415 636.86,415.71 638.75,416.48 640.64,417.28 642.52,418.11 644.41,418.96 646.3,419.82 648.19,420.67 650.08,421.5 651.97,422.31 653.86,423.09 655.75,423.84 657.63,424.57 659.52,425.26 661.41,425.94 663.3,426.58 665.19,427.2 667.08,427.79 668.97,428.36 670.86,428.9 672.75,429.41 674.63,429.9 676.52,430.36 678.41,430.79 680.3,431.2"/>
<line x1="438.6" y1="292.5" x2="438.6" y2="557.8" stroke="#ffff40" stroke-width="1" stroke-dasharray="4 3"/>
<line x1="485.3" y1="292.5" x2="485.3" y2="557.8" stroke="#ffff40" stroke-width="1" stroke-dasharray="4 3"/>
<line x1="378.1" y1="535.69" x2="680.3" y2="535.69" stroke="#000" stroke-opacity="0.62" stroke-width="1" stroke-dasharray="1 3.29"/>
<line x1="378.1" y1="513.58" x2="680.3" y2="513.58" stroke="#000" stroke-opacity="0.62" stroke-width="1" stroke-dasharray="1 3.29"/>
<line x1="378.1" y1="491.47" x2="680.3" y2="491.47" stroke="#000" stroke-opacity="0.62" stroke-width="1" stroke-dasharray="1 3.29"/>
<line x1="378.1" y1="469.37" x2="680.3" y2="469.37" stroke="#000" stroke-opacity="0.62" stroke-width="1" stroke-dasharray="1 3.29"/>
<line x1="378.1" y1="447.26" x2="680.3" y2="447.26" stroke="#000" stroke-opacity="0.62" stroke-width="1" stroke-dasharray="1 3.29"/>
<line x1="378.1" y1="425.15" x2="680.3" y2="425.15" stroke="#000" stroke-opacity="0.62" stroke-width="1" stroke-dasharray="1 3.29"/>
<line x1="378.1" y1="403.04" x2="680.3" y2="403.04" stroke="#000" stroke-opacity="0.62" stroke-width="1" stroke-dasharray="1 3.29"/>
<line x1="378.1" y1="380.93" x2="680.3" y2="380.93" stroke="#000" stroke-opacity="0.62" stroke-width="1" stroke-dasharray="1 3.29"/>
<line x1="378.1" y1="358.82" x2="680.3" y2="358.82" stroke="#000" stroke-opacity="0.62" stroke-width="1" stroke-dasharray="1 3.29"/>
<line x1="378.1" y1="336.72" x2="680.3" y2="336.72" stroke="#000" stroke-opacity="0.62" stroke-width="1" stroke-dasharray="1 3.29"/>
<line x1="378.1" y1="314.61" x2="680.3" y2="314.61" stroke="#000" stroke-opacity="0.62" stroke-width="1" stroke-dasharray="1 3.29"/>
<line x1="459.54" y1="422.05" x2="459.54" y2="452.34" stroke="#000" stroke-width="1.15"/>
<line x1="456.54" y1="422.05" x2="462.54" y2="422.05" stroke="#000" stroke-width="1.15"/>
<line x1="456.54" y1="452.34" x2="462.54" y2="452.34" stroke="#000" stroke-width="1.15"/>
<circle cx="459.54" cy="436.43" r="3.2" fill="#000"/>
</g>
<path d="M378.1,557.8h10M680.3,557.8h-10M378.1,552.27h5M680.3,552.27h-5M378.1,546.75h5M680.3,546.75h-5M378.1,541.22h5M680.3,541.22h-5M378.1,535.69h10M680.3,535.69h-10M378.1,530.16h5M680.3,530.16h-5M378.1,524.64h5M680.3,524.64h-5M378.1,519.11h5M680.3,519.11h-5M378.1,513.58h10M680.3,513.58h-10M378.1,508.06h5M680.3,508.06h-5M378.1,502.53h5M680.3,502.53h-5M378.1,497h5M680.3,497h-5M378.1,491.47h10M680.3,491.47h-10M378.1,485.95h5M680.3,485.95h-5M378.1,480.42h5M680.3,480.42h-5M378.1,474.89h5M680.3,474.89h-5M378.1,469.37h10M680.3,469.37h-10M378.1,463.84h5M680.3,463.84h-5M378.1,458.31h5M680.3,458.31h-5M378.1,452.79h5M680.3,452.79h-5M378.1,447.26h10M680.3,447.26h-10M378.1,441.73h5M680.3,441.73h-5M378.1,436.2h5M680.3,436.2h-5M378.1,430.68h5M680.3,430.68h-5M378.1,425.15h10M680.3,425.15h-10M378.1,419.62h5M680.3,419.62h-5M378.1,414.1h5M680.3,414.1h-5M378.1,408.57h5M680.3,408.57h-5M378.1,403.04h10M680.3,403.04h-10M378.1,397.51h5M680.3,397.51h-5M378.1,391.99h5M680.3,391.99h-5M378.1,386.46h5M680.3,386.46h-5M378.1,380.93h10M680.3,380.93h-10M378.1,375.41h5M680.3,375.41h-5M378.1,369.88h5M680.3,369.88h-5M378.1,364.35h5M680.3,364.35h-5M378.1,358.82h10M680.3,358.82h-10M378.1,353.3h5M680.3,353.3h-5M378.1,347.77h5M680.3,347.77h-5M378.1,342.24h5M680.3,342.24h-5M378.1,336.72h10M680.3,336.72h-10M378.1,331.19h5M680.3,331.19h-5M378.1,325.66h5M680.3,325.66h-5M378.1,320.14h5M680.3,320.14h-5M378.1,314.61h10M680.3,314.61h-10M378.1,309.08h5M680.3,309.08h-5M378.1,303.55h5M680.3,303.55h-5M378.1,298.03h5M680.3,298.03h-5M378.1,292.5h10M680.3,292.5h-10M378.1,292.5v10M378.1,557.8v-10M393.21,292.5v5M393.21,557.8v-5M408.32,292.5v5M408.32,557.8v-5M423.43,292.5v5M423.43,557.8v-5M438.54,292.5v5M438.54,557.8v-5M453.65,292.5v10M453.65,557.8v-10M468.76,292.5v5M468.76,557.8v-5M483.87,292.5v5M483.87,557.8v-5M498.98,292.5v5M498.98,557.8v-5M514.09,292.5v5M514.09,557.8v-5M529.2,292.5v10M529.2,557.8v-10M544.31,292.5v5M544.31,557.8v-5M559.42,292.5v5M559.42,557.8v-5M574.53,292.5v5M574.53,557.8v-5M589.64,292.5v5M589.64,557.8v-5M604.75,292.5v10M604.75,557.8v-10M619.86,292.5v5M619.86,557.8v-5M634.97,292.5v5M634.97,557.8v-5M650.08,292.5v5M650.08,557.8v-5M665.19,292.5v5M665.19,557.8v-5M680.3,292.5v10M680.3,557.8v-10" stroke="#000" stroke-width="1" fill="none"/>
<rect x="378.1" y="292.5" width="302.2" height="265.3" fill="none" stroke="#000" stroke-width="1.1"/>
<text x="648" y="310.3" font-family="Liberation Serif" font-size="16">(d)</text>
<text x="552.5" y="529.5" font-family="Liberation Serif" font-size="15.1">True MO: Inverted</text>
<clipPath id="clipe"><rect x="59.5" y="576.4" width="302.4" height="265"/></clipPath>
<g clip-path="url(#clipe)">
<rect x="59.5" y="576.4" width="37.5" height="265" fill="#ffff00"/>
<rect x="356.0" y="576.4" width="5.9" height="265" fill="#ffff00"/>
<polygon fill="#d9d9d9" points="59.5,652.5 61.39,651.92 63.28,651.37 65.17,650.84 67.06,650.32 68.95,649.82 70.84,649.34 72.73,648.86 74.62,648.4 76.51,647.94 78.4,647.49 80.29,647.05 82.18,646.6 84.07,646.16 85.96,645.71 87.85,645.26 89.74,644.8 91.63,644.33 93.52,643.86 95.41,643.4 97.3,642.94 99.19,642.49 101.08,642.07 102.97,641.67 104.86,641.3 106.75,640.97 108.64,640.67 110.53,640.41 112.42,640.18 114.31,639.99 116.2,639.83 118.09,639.7 119.98,639.6 121.87,639.53 123.76,639.5 125.65,639.5 127.54,639.54 129.43,639.63 131.32,639.77 133.21,639.95 135.1,640.2 136.99,640.51 138.88,640.88 140.77,641.32 142.66,641.84 144.55,642.44 146.44,643.13 148.33,643.92 150.22,644.8 152.11,645.79 154,646.86 155.89,648 157.78,649.18 159.67,650.39 161.56,651.61 163.45,652.82 165.34,654 167.23,655.13 169.12,656.22 171.01,657.28 172.9,658.32 174.79,659.36 176.68,660.39 178.57,661.43 180.46,662.5 182.35,663.6 184.24,664.72 186.13,665.85 188.02,667 189.91,668.14 191.8,669.28 193.69,670.4 195.58,671.5 197.47,672.56 199.36,673.59 201.25,674.55 203.14,675.45 205.03,676.28 206.92,677.02 208.81,677.66 210.7,678.2 212.59,678.62 214.48,678.94 216.37,679.17 218.26,679.33 220.15,679.44 222.04,679.51 223.93,679.56 225.82,679.6 227.71,679.65 229.6,679.7 231.49,679.74 233.38,679.77 235.27,679.78 237.16,679.76 239.05,679.7 240.94,679.6 242.83,679.44 244.72,679.24 246.61,678.99 248.5,678.71 250.39,678.39 252.28,678.05 254.17,677.68 256.06,677.3 257.95,676.9 259.84,676.5 261.73,676.08 263.62,675.65 265.51,675.21 267.4,674.75 269.29,674.28 271.18,673.8 273.07,673.31 274.96,672.8 276.85,672.28 278.74,671.76 280.63,671.22 282.52,670.69 284.41,670.14 286.3,669.6 288.19,669.06 290.08,668.51 291.97,667.97 293.86,667.44 295.75,666.91 297.64,666.4 299.53,665.89 301.42,665.4 303.31,664.92 305.2,664.46 307.09,664.01 308.98,663.57 310.87,663.14 312.76,662.72 314.65,662.31 316.54,661.9 318.43,661.5 320.32,661.09 322.21,660.7 324.1,660.31 325.99,659.92 327.88,659.54 329.77,659.17 331.66,658.8 333.55,658.44 335.44,658.09 337.33,657.74 339.22,657.4 341.11,657.06 343,656.74 344.89,656.41 346.78,656.1 348.67,655.79 350.56,655.49 352.45,655.19 354.34,654.9 356.23,654.62 358.12,654.34 360.01,654.07 361.9,653.8 361.9,716.5 360.01,716.72 358.12,716.94 356.23,717.17 354.34,717.39 352.45,717.61 350.56,717.84 348.67,718.07 346.78,718.3 344.89,718.53 343,718.77 341.11,719.01 339.22,719.26 337.33,719.51 335.44,719.77 333.55,720.03 331.66,720.3 329.77,720.58 327.88,720.86 325.99,721.15 324.1,721.44 322.21,721.75 320.32,722.06 318.43,722.37 316.54,722.7 314.65,723.03 312.76,723.37 310.87,723.72 308.98,724.08 307.09,724.45 305.2,724.82 303.31,725.21 301.42,725.6 299.53,726 297.64,726.41 295.75,726.84 293.86,727.27 291.97,727.71 290.08,728.16 288.19,728.63 286.3,729.1 284.41,729.59 282.52,730.07 280.63,730.56 278.74,731.04 276.85,731.5 274.96,731.93 273.07,732.34 271.18,732.7 269.29,733.02 267.4,733.3 265.51,733.55 263.62,733.77 261.73,733.97 259.84,734.15 257.95,734.33 256.06,734.5 254.17,734.68 252.28,734.85 250.39,735.02 248.5,735.19 246.61,735.34 244.72,735.48 242.83,735.6 240.94,735.7 239.05,735.77 237.16,735.81 235.27,735.82 233.38,735.78 231.49,735.69 229.6,735.55 227.71,735.36 225.82,735.1 223.93,734.78 222.04,734.39 220.15,733.94 218.26,733.44 216.37,732.89 214.48,732.3 212.59,731.67 210.7,731 208.81,730.3 206.92,729.56 205.03,728.78 203.14,727.95 201.25,727.07 199.36,726.12 197.47,725.1 195.58,724 193.69,722.82 191.8,721.58 189.91,720.28 188.02,718.94 186.13,717.58 184.24,716.21 182.35,714.84 180.46,713.5 178.57,712.19 176.68,710.91 174.79,709.65 172.9,708.41 171.01,707.18 169.12,705.96 167.23,704.73 165.34,703.5 163.45,702.26 161.56,701.02 159.67,699.8 157.78,698.61 155.89,697.47 154,696.4 152.11,695.4 150.22,694.5 148.33,693.71 146.44,693.02 144.55,692.42 142.66,691.92 140.77,691.51 138.88,691.17 136.99,690.9 135.1,690.7 133.21,690.56 131.32,690.47 129.43,690.44 127.54,690.46 125.65,690.53 123.76,690.64 121.87,690.8 119.98,691 118.09,691.24 116.2,691.52 114.31,691.86 112.42,692.26 110.53,692.72 108.64,693.26 106.75,693.89 104.86,694.6 102.97,695.41 101.08,696.31 99.19,697.27 97.3,698.31 95.41,699.39 93.52,700.5 91.63,701.65 89.74,702.8 87.85,703.96 85.96,705.1 84.07,706.24 82.18,707.35 80.29,708.43 78.4,709.47 76.51,710.46 74.62,711.4 72.73,712.28 70.84,713.08 68.95,713.81 67.06,714.45 65.17,715 63.28,715.45 61.39,715.78 59.5,716"/>
<polygon fill="#ffa500" points="59.5,667.4 61.39,667.12 63.28,666.8 65.17,666.43 67.06,666.02 68.95,665.58 70.84,665.11 72.73,664.62 74.62,664.1 76.51,663.56 78.4,663.01 80.29,662.45 82.18,661.88 84.07,661.3 85.96,660.73 87.85,660.16 89.74,659.6 91.63,659.05 93.52,658.51 95.41,657.99 97.3,657.47 99.19,656.96 101.08,656.47 102.97,655.98 104.86,655.5 106.75,655.03 108.64,654.58 110.53,654.14 112.42,653.74 114.31,653.38 116.2,653.07 118.09,652.8 119.98,652.6 121.87,652.46 123.76,652.39 125.65,652.38 127.54,652.42 129.43,652.5 131.32,652.63 133.21,652.8 135.1,653 136.99,653.23 138.88,653.5 140.77,653.81 142.66,654.19 144.55,654.64 146.44,655.16 148.33,655.78 150.22,656.5 152.11,657.33 154,658.26 155.89,659.26 157.78,660.34 159.67,661.47 161.56,662.63 163.45,663.81 165.34,665 167.23,666.18 169.12,667.36 171.01,668.53 172.9,669.71 174.79,670.89 176.68,672.08 178.57,673.28 180.46,674.5 182.35,675.74 184.24,676.99 186.13,678.25 188.02,679.5 189.91,680.74 191.8,681.96 193.69,683.15 195.58,684.3 197.47,685.4 199.36,686.45 201.25,687.44 203.14,688.36 205.03,689.2 206.92,689.96 208.81,690.63 210.7,691.2 212.59,691.67 214.48,692.04 216.37,692.33 218.26,692.56 220.15,692.72 222.04,692.84 223.93,692.93 225.82,693 227.71,693.06 229.6,693.1 231.49,693.14 233.38,693.15 235.27,693.15 237.16,693.12 239.05,693.08 240.94,693 242.83,692.89 244.72,692.76 246.61,692.59 248.5,692.4 250.39,692.17 252.28,691.91 254.17,691.62 256.06,691.3 257.95,690.95 259.84,690.56 261.73,690.15 263.62,689.72 265.51,689.26 267.4,688.79 269.29,688.3 271.18,687.8 273.07,687.29 274.96,686.77 276.85,686.24 278.74,685.72 280.63,685.19 282.52,684.65 284.41,684.13 286.3,683.6 288.19,683.08 290.08,682.56 291.97,682.05 293.86,681.54 295.75,681.03 297.64,680.52 299.53,680.01 301.42,679.5 303.31,678.98 305.2,678.47 307.09,677.96 308.98,677.45 310.87,676.96 312.76,676.49 314.65,676.03 316.54,675.6 318.43,675.2 320.32,674.82 322.21,674.46 324.1,674.11 325.99,673.78 327.88,673.45 329.77,673.13 331.66,672.8 333.55,672.47 335.44,672.13 337.33,671.79 339.22,671.45 341.11,671.11 343,670.77 344.89,670.43 346.78,670.1 348.67,669.77 350.56,669.46 352.45,669.15 354.34,668.85 356.23,668.56 358.12,668.29 360.01,668.04 361.9,667.8 361.9,703.4 360.01,703.71 358.12,704.01 356.23,704.3 354.34,704.58 352.45,704.87 350.56,705.14 348.67,705.42 346.78,705.7 344.89,705.98 343,706.26 341.11,706.55 339.22,706.84 337.33,707.14 335.44,707.45 333.55,707.77 331.66,708.1 329.77,708.44 327.88,708.8 325.99,709.16 324.1,709.53 322.21,709.9 320.32,710.27 318.43,710.64 316.54,711 314.65,711.36 312.76,711.71 310.87,712.06 308.98,712.41 307.09,712.77 305.2,713.13 303.31,713.51 301.42,713.9 299.53,714.31 297.64,714.73 295.75,715.17 293.86,715.61 291.97,716.07 290.08,716.54 288.19,717.02 286.3,717.5 284.41,717.98 282.52,718.47 280.63,718.95 278.74,719.42 276.85,719.87 274.96,720.31 273.07,720.72 271.18,721.1 269.29,721.45 267.4,721.77 265.51,722.07 263.62,722.35 261.73,722.62 259.84,722.88 257.95,723.14 256.06,723.4 254.17,723.67 252.28,723.93 250.39,724.19 248.5,724.43 246.61,724.65 244.72,724.84 242.83,724.99 240.94,725.1 239.05,725.16 237.16,725.17 235.27,725.14 233.38,725.08 231.49,724.98 229.6,724.87 227.71,724.74 225.82,724.6 223.93,724.45 222.04,724.28 220.15,724.08 218.26,723.83 216.37,723.51 214.48,723.11 212.59,722.61 210.7,722 208.81,721.27 206.92,720.43 205.03,719.49 203.14,718.48 201.25,717.4 199.36,716.29 197.47,715.15 195.58,714 193.69,712.86 191.8,711.72 189.91,710.58 188.02,709.43 186.13,708.27 184.24,707.1 182.35,705.91 180.46,704.7 178.57,703.46 176.68,702.2 174.79,700.93 172.9,699.64 171.01,698.36 169.12,697.09 167.23,695.83 165.34,694.6 163.45,693.4 161.56,692.23 159.67,691.1 157.78,690.02 155.89,688.99 154,688.03 152.11,687.13 150.22,686.3 148.33,685.55 146.44,684.87 144.55,684.26 142.66,683.73 140.77,683.25 138.88,682.85 136.99,682.49 135.1,682.2 133.21,681.96 131.32,681.77 129.43,681.65 127.54,681.58 125.65,681.58 123.76,681.65 121.87,681.79 119.98,682 118.09,682.29 116.2,682.64 114.31,683.06 112.42,683.55 110.53,684.09 108.64,684.68 106.75,685.32 104.86,686 102.97,686.72 101.08,687.47 99.19,688.26 97.3,689.08 95.41,689.92 93.52,690.79 91.63,691.69 89.74,692.6 87.85,693.53 85.96,694.47 84.07,695.41 82.18,696.33 80.29,697.23 78.4,698.1 76.51,698.93 74.62,699.7 72.73,700.41 70.84,701.04 68.95,701.59 67.06,702.04 65.17,702.39 63.28,702.62 61.39,702.73 59.5,702.7"/>
<rect x="59.5" y="771.57" width="302.4" height="7.37" fill="#0000ff"/>
<polyline fill="none" stroke="#00ff00" stroke-width="4.2" stroke-linejoin="round" points="59.5,790.17 61.39,788.88 63.28,787.55 65.17,786.17 67.06,784.74 68.95,783.26 70.84,781.72 72.73,780.12 74.62,778.46 76.51,776.74 78.4,774.94 80.29,773.08 82.18,771.14 84.07,769.12 85.96,767.02 87.85,764.83 89.74,762.56 91.63,760.21 93.52,757.79 95.41,755.35 97.3,752.93 99.19,750.55 101.08,748.24 102.97,746.06 104.86,744.01 106.75,742.14 108.64,740.45 110.53,738.91 112.42,737.54 114.31,736.31 116.2,735.21 118.09,734.25 119.98,733.41 121.87,732.69 123.76,732.07 125.65,731.55 127.54,731.13 129.43,730.8 131.32,730.56 133.21,730.4 135.1,730.32 136.99,730.31 138.88,730.38 140.77,730.53 142.66,730.77 144.55,731.1 146.44,731.54 148.33,732.09 150.22,732.75 152.11,733.53 154,734.42 155.89,735.42 157.78,736.51 159.67,737.68 161.56,738.92 163.45,740.22 165.34,741.58 167.23,742.99 169.12,744.42 171.01,745.89 172.9,747.37 174.79,748.86 176.68,750.35 178.57,751.83 180.46,753.29 182.35,754.73 184.24,756.19 186.13,757.71 188.02,759.33 189.91,761.1 191.8,763.03 193.69,765.07 195.58,767.13 197.47,769.11 199.36,770.95 201.25,772.63 203.14,774.15 205.03,775.5 206.92,776.7 208.81,777.79 210.7,778.83 212.59,779.84 214.48,780.85 216.37,781.82 218.26,782.7 220.15,783.45 222.04,784.08 223.93,784.63 225.82,785.13 227.71,785.62 229.6,786.11 231.49,786.57 233.38,786.98 235.27,787.34 237.16,787.64 239.05,787.91 240.94,788.18 242.83,788.45 244.72,788.74 246.61,789.03 248.5,789.31 250.39,789.6 252.28,789.88 254.17,790.14 256.06,790.39 257.95,790.61 259.84,790.82 261.73,791.02 263.62,791.21 265.51,791.39 267.4,791.57 269.29,791.75 271.18,791.93 273.07,792.13 274.96,792.33 276.85,792.54 278.74,792.74 280.63,792.94 282.52,793.13 284.41,793.31 286.3,793.48 288.19,793.63 290.08,793.76 291.97,793.87 293.86,793.98 295.75,794.08 297.64,794.17 299.53,794.27 301.42,794.36 303.31,794.46 305.2,794.57 307.09,794.67 308.98,794.78 310.87,794.9 312.76,795.01 314.65,795.13 316.54,795.25 318.43,795.36 320.32,795.48 322.21,795.58 324.1,795.68 325.99,795.76 327.88,795.83 329.77,795.88 331.66,795.91 333.55,795.91 335.44,795.88 337.33,795.82 339.22,795.74 341.11,795.61 343,795.46 344.89,795.26 346.78,795.02 348.67,794.75 350.56,794.43 352.45,794.06 354.34,793.65 356.23,793.19 358.12,792.68 360.01,792.11 361.9,791.49"/>
<polyline fill="none" stroke="#000" stroke-opacity="0.5" stroke-width="1.3" stroke-dasharray="5.4 3.8" points="59.5,790.17 61.39,788.88 63.28,787.55 65.17,786.17 67.06,784.74 68.95,783.26 70.84,781.72 72.73,780.12 74.62,778.46 76.51,776.74 78.4,774.94 80.29,773.08 82.18,771.14 84.07,769.12 85.96,767.02 87.85,764.83 89.74,762.56 91.63,760.21 93.52,757.79 95.41,755.35 97.3,752.93 99.19,750.55 101.08,748.24 102.97,746.06 104.86,744.01 106.75,742.14 108.64,740.45 110.53,738.91 112.42,737.54 114.31,736.31 116.2,735.21 118.09,734.25 119.98,733.41 121.87,732.69 123.76,732.07 125.65,731.55 127.54,731.13 129.43,730.8 131.32,730.56 133.21,730.4 135.1,730.32 136.99,730.31 138.88,730.38 140.77,730.53 142.66,730.77 144.55,731.1 146.44,731.54 148.33,732.09 150.22,732.75 152.11,733.53 154,734.42 155.89,735.42 157.78,736.51 159.67,737.68 161.56,738.92 163.45,740.22 165.34,741.58 167.23,742.99 169.12,744.42 171.01,745.89 172.9,747.37 174.79,748.86 176.68,750.35 178.57,751.83 180.46,753.29 182.35,754.73 184.24,756.19 186.13,757.71 188.02,759.33 189.91,761.1 191.8,763.03 193.69,765.07 195.58,767.13 197.47,769.11 199.36,770.95 201.25,772.63 203.14,774.15 205.03,775.5 206.92,776.7 208.81,777.79 210.7,778.83 212.59,779.84 214.48,780.85 216.37,781.82 218.26,782.7 220.15,783.45 222.04,784.08 223.93,784.63 225.82,785.13 227.71,785.62 229.6,786.11 231.49,786.57 233.38,786.98 235.27,787.34 237.16,787.64 239.05,787.91 240.94,788.18 242.83,788.45 244.72,788.74 246.61,789.03 248.5,789.31 250.39,789.6 252.28,789.88 254.17,790.14 256.06,790.39 257.95,790.61 259.84,790.82 261.73,791.02 263.62,791.21 265.51,791.39 267.4,791.57 269.29,791.75 271.18,791.93 273.07,792.13 274.96,792.33 276.85,792.54 278.74,792.74 280.63,792.94 282.52,793.13 284.41,793.31 286.3,793.48 288.19,793.63 290.08,793.76 291.97,793.87 293.86,793.98 295.75,794.08 297.64,794.17 299.53,794.27 301.42,794.36 303.31,794.46 305.2,794.57 307.09,794.67 308.98,794.78 310.87,794.9 312.76,795.01 314.65,795.13 316.54,795.25 318.43,795.36 320.32,795.48 322.21,795.58 324.1,795.68 325.99,795.76 327.88,795.83 329.77,795.88 331.66,795.91 333.55,795.91 335.44,795.88 337.33,795.82 339.22,795.74 341.11,795.61 343,795.46 344.89,795.26 346.78,795.02 348.67,794.75 350.56,794.43 352.45,794.06 354.34,793.65 356.23,793.19 358.12,792.68 360.01,792.11 361.9,791.49"/>
<polyline fill="none" stroke="#0000f0" stroke-width="1.4" stroke-dasharray="5.7 3.8" points="59.5,684.2 61.39,683.84 63.28,683.43 65.17,682.97 67.06,682.47 68.95,681.93 70.84,681.35 72.73,680.74 74.62,680.1 76.51,679.44 78.4,678.75 80.29,678.05 82.18,677.33 84.07,676.61 85.96,675.87 87.85,675.14 89.74,674.4 91.63,673.67 93.52,672.95 95.41,672.24 97.3,671.55 99.19,670.89 101.08,670.26 102.97,669.66 104.86,669.1 106.75,668.58 108.64,668.12 110.53,667.7 112.42,667.33 114.31,667.01 116.2,666.75 118.09,666.54 119.98,666.4 121.87,666.32 123.76,666.29 125.65,666.31 127.54,666.38 129.43,666.49 131.32,666.63 133.21,666.8 135.1,667 136.99,667.22 138.88,667.47 140.77,667.77 142.66,668.14 144.55,668.58 146.44,669.11 148.33,669.74 150.22,670.5 152.11,671.38 154,672.38 155.89,673.48 157.78,674.66 159.67,675.9 161.56,677.18 163.45,678.49 165.34,679.8 167.23,681.11 169.12,682.4 171.01,683.69 172.9,684.97 174.79,686.24 176.68,687.5 178.57,688.75 180.46,690 182.35,691.24 184.24,692.47 186.13,693.69 188.02,694.89 189.91,696.07 191.8,697.24 193.69,698.38 195.58,699.5 197.47,700.59 199.36,701.64 201.25,702.64 203.14,703.59 205.03,704.46 206.92,705.27 208.81,705.98 210.7,706.6 212.59,707.12 214.48,707.54 216.37,707.88 218.26,708.16 220.15,708.37 222.04,708.54 223.93,708.68 225.82,708.8 227.71,708.91 229.6,708.99 231.49,709.06 233.38,709.1 235.27,709.1 237.16,709.05 239.05,708.96 240.94,708.8 242.83,708.58 244.72,708.31 246.61,707.98 248.5,707.61 250.39,707.21 252.28,706.79 254.17,706.35 256.06,705.9 257.95,705.45 259.84,705 261.73,704.55 263.62,704.11 265.51,703.67 267.4,703.24 269.29,702.82 271.18,702.4 273.07,701.99 274.96,701.59 276.85,701.19 278.74,700.79 280.63,700.38 282.52,699.97 284.41,699.54 286.3,699.1 288.19,698.64 290.08,698.16 291.97,697.67 293.86,697.18 295.75,696.68 297.64,696.18 299.53,695.69 301.42,695.2 303.31,694.72 305.2,694.26 307.09,693.81 308.98,693.37 310.87,692.94 312.76,692.52 314.65,692.1 316.54,691.7 318.43,691.31 320.32,690.92 322.21,690.54 324.1,690.17 325.99,689.81 327.88,689.47 329.77,689.13 331.66,688.8 333.55,688.48 335.44,688.18 337.33,687.88 339.22,687.59 341.11,687.31 343,687.03 344.89,686.76 346.78,686.5 348.67,686.24 350.56,685.99 352.45,685.74 354.34,685.49 356.23,685.24 358.12,684.99 360.01,684.75 361.9,684.5"/>
<line x1="96.5" y1="576.4" x2="96.5" y2="841.4" stroke="#ffff40" stroke-width="1" stroke-dasharray="4 3"/>
<line x1="356.5" y1="576.4" x2="356.5" y2="841.4" stroke="#ffff40" stroke-width="1" stroke-dasharray="4 3"/>
<line x1="59.5" y1="819.32" x2="361.9" y2="819.32" stroke="#000" stroke-opacity="0.62" stroke-width="1" stroke-dasharray="1 3.29"/>
<line x1="59.5" y1="797.23" x2="361.9" y2="797.23" stroke="#000" stroke-opacity="0.62" stroke-width="1" stroke-dasharray="1 3.29"/>
<line x1="59.5" y1="775.15" x2="361.9" y2="775.15" stroke="#000" stroke-opacity="0.62" stroke-width="1" stroke-dasharray="1 3.29"/>
<line x1="59.5" y1="753.07" x2="361.9" y2="753.07" stroke="#000" stroke-opacity="0.62" stroke-width="1" stroke-dasharray="1 3.29"/>
<line x1="59.5" y1="730.98" x2="361.9" y2="730.98" stroke="#000" stroke-opacity="0.62" stroke-width="1" stroke-dasharray="1 3.29"/>
<line x1="59.5" y1="708.9" x2="361.9" y2="708.9" stroke="#000" stroke-opacity="0.62" stroke-width="1" stroke-dasharray="1 3.29"/>
<line x1="59.5" y1="686.82" x2="361.9" y2="686.82" stroke="#000" stroke-opacity="0.62" stroke-width="1" stroke-dasharray="1 3.29"/>
<line x1="59.5" y1="664.73" x2="361.9" y2="664.73" stroke="#000" stroke-opacity="0.62" stroke-width="1" stroke-dasharray="1 3.29"/>
<line x1="59.5" y1="642.65" x2="361.9" y2="642.65" stroke="#000" stroke-opacity="0.62" stroke-width="1" stroke-dasharray="1 3.29"/>
<line x1="59.5" y1="620.57" x2="361.9" y2="620.57" stroke="#000" stroke-opacity="0.62" stroke-width="1" stroke-dasharray="1 3.29"/>
<line x1="59.5" y1="598.48" x2="361.9" y2="598.48" stroke="#000" stroke-opacity="0.62" stroke-width="1" stroke-dasharray="1 3.29"/>
<line x1="73.11" y1="670.25" x2="73.11" y2="708.46" stroke="#000" stroke-width="1.15"/>
<line x1="70.11" y1="670.25" x2="76.11" y2="670.25" stroke="#000" stroke-width="1.15"/>
<line x1="70.11" y1="708.46" x2="76.11" y2="708.46" stroke="#000" stroke-width="1.15"/>
<circle cx="73.11" cy="690.57" r="3.2" fill="#000"/>
</g>
<path d="M59.5,841.4h10M361.9,841.4h-10M59.5,835.88h5M361.9,835.88h-5M59.5,830.36h5M361.9,830.36h-5M59.5,824.84h5M361.9,824.84h-5M59.5,819.32h10M361.9,819.32h-10M59.5,813.8h5M361.9,813.8h-5M59.5,808.27h5M361.9,808.27h-5M59.5,802.75h5M361.9,802.75h-5M59.5,797.23h10M361.9,797.23h-10M59.5,791.71h5M361.9,791.71h-5M59.5,786.19h5M361.9,786.19h-5M59.5,780.67h5M361.9,780.67h-5M59.5,775.15h10M361.9,775.15h-10M59.5,769.63h5M361.9,769.63h-5M59.5,764.11h5M361.9,764.11h-5M59.5,758.59h5M361.9,758.59h-5M59.5,753.07h10M361.9,753.07h-10M59.5,747.55h5M361.9,747.55h-5M59.5,742.02h5M361.9,742.02h-5M59.5,736.5h5M361.9,736.5h-5M59.5,730.98h10M361.9,730.98h-10M59.5,725.46h5M361.9,725.46h-5M59.5,719.94h5M361.9,719.94h-5M59.5,714.42h5M361.9,714.42h-5M59.5,708.9h10M361.9,708.9h-10M59.5,703.38h5M361.9,703.38h-5M59.5,697.86h5M361.9,697.86h-5M59.5,692.34h5M361.9,692.34h-5M59.5,686.82h10M361.9,686.82h-10M59.5,681.3h5M361.9,681.3h-5M59.5,675.77h5M361.9,675.77h-5M59.5,670.25h5M361.9,670.25h-5M59.5,664.73h10M361.9,664.73h-10M59.5,659.21h5M361.9,659.21h-5M59.5,653.69h5M361.9,653.69h-5M59.5,648.17h5M361.9,648.17h-5M59.5,642.65h10M361.9,642.65h-10M59.5,637.13h5M361.9,637.13h-5M59.5,631.61h5M361.9,631.61h-5M59.5,626.09h5M361.9,626.09h-5M59.5,620.57h10M361.9,620.57h-10M59.5,615.05h5M361.9,615.05h-5M59.5,609.52h5M361.9,609.52h-5M59.5,604h5M361.9,604h-5M59.5,598.48h10M361.9,598.48h-10M59.5,592.96h5M361.9,592.96h-5M59.5,587.44h5M361.9,587.44h-5M59.5,581.92h5M361.9,581.92h-5M59.5,576.4h10M361.9,576.4h-10M59.5,576.4v10M59.5,841.4v-10M74.62,576.4v5M74.62,841.4v-5M89.74,576.4v5M89.74,841.4v-5M104.86,576.4v5M104.86,841.4v-5M119.98,576.4v5M119.98,841.4v-5M135.1,576.4v10M135.1,841.4v-10M150.22,576.4v5M150.22,841.4v-5M165.34,576.4v5M165.34,841.4v-5M180.46,576.4v5M180.46,841.4v-5M195.58,576.4v5M195.58,841.4v-5M210.7,576.4v10M210.7,841.4v-10M225.82,576.4v5M225.82,841.4v-5M240.94,576.4v5M240.94,841.4v-5M256.06,576.4v5M256.06,841.4v-5M271.18,576.4v5M271.18,841.4v-5M286.3,576.4v10M286.3,841.4v-10M301.42,576.4v5M301.42,841.4v-5M316.54,576.4v5M316.54,841.4v-5M331.66,576.4v5M331.66,841.4v-5M346.78,576.4v5M346.78,841.4v-5M361.9,576.4v10M361.9,841.4v-10" stroke="#000" stroke-width="1" fill="none"/>
<rect x="59.5" y="576.4" width="302.4" height="265" fill="none" stroke="#000" stroke-width="1.1"/>
<text x="105.5" y="594.2" font-family="Liberation Serif" font-size="16">(e)</text>
<text x="103" y="813.7" font-family="Liberation Serif" font-size="15.1">True MO: Normal</text>
<clipPath id="clipf"><rect x="378.1" y="576.4" width="302.2" height="265"/></clipPath>
<g clip-path="url(#clipf)">
<rect x="438.1" y="576.4" width="47.7" height="265" fill="#ffff00"/>
<polygon fill="#d9d9d9" points="378.1,650.6 379.99,650.94 381.88,651.24 383.77,651.52 385.66,651.77 387.54,652 389.43,652.21 391.32,652.41 393.21,652.6 395.1,652.79 396.99,652.97 398.88,653.16 400.77,653.36 402.65,653.57 404.54,653.79 406.43,654.03 408.32,654.3 410.21,654.59 412.1,654.91 413.99,655.26 415.88,655.62 417.76,656.01 419.65,656.42 421.54,656.85 423.43,657.3 425.32,657.77 427.21,658.25 429.1,658.74 430.99,659.25 432.87,659.77 434.76,660.3 436.65,660.85 438.54,661.4 440.43,661.96 442.32,662.52 444.21,663.08 446.1,663.64 447.98,664.18 449.87,664.71 451.76,665.22 453.65,665.7 455.54,666.15 457.43,666.59 459.32,667 461.21,667.4 463.09,667.79 464.98,668.19 466.87,668.59 468.76,669 470.65,669.43 472.54,669.87 474.43,670.32 476.31,670.77 478.2,671.22 480.09,671.66 481.98,672.09 483.87,672.5 485.76,672.89 487.65,673.26 489.54,673.6 491.43,673.92 493.31,674.21 495.2,674.47 497.09,674.7 498.98,674.9 500.87,675.07 502.76,675.2 504.65,675.3 506.53,675.38 508.42,675.42 510.31,675.44 512.2,675.43 514.09,675.4 515.98,675.35 517.87,675.27 519.76,675.18 521.64,675.08 523.53,674.96 525.42,674.84 527.31,674.72 529.2,674.6 531.09,674.48 532.98,674.34 534.87,674.17 536.75,673.95 538.64,673.65 540.53,673.25 542.42,672.74 544.31,672.1 546.2,671.31 548.09,670.4 549.98,669.39 551.87,668.31 553.75,667.19 555.64,666.07 557.53,664.96 559.42,663.9 561.31,662.91 563.2,661.99 565.09,661.12 566.97,660.3 568.86,659.52 570.75,658.76 572.64,658.03 574.53,657.3 576.42,656.57 578.31,655.84 580.2,655.1 582.09,654.35 583.97,653.59 585.86,652.82 587.75,652.02 589.64,651.2 591.53,650.36 593.42,649.51 595.31,648.66 597.19,647.83 599.08,647.04 600.97,646.29 602.86,645.61 604.75,645 606.64,644.48 608.53,644.05 610.42,643.69 612.3,643.4 614.19,643.18 616.08,643.01 617.97,642.88 619.86,642.8 621.75,642.75 623.64,642.74 625.53,642.76 627.41,642.81 629.3,642.9 631.19,643.03 633.08,643.2 634.97,643.4 636.86,643.64 638.75,643.91 640.64,644.21 642.52,644.53 644.41,644.85 646.3,645.17 648.19,645.49 650.08,645.8 651.97,646.09 653.86,646.36 655.75,646.61 657.63,646.86 659.52,647.1 661.41,647.33 663.3,647.56 665.19,647.8 667.08,648.04 668.97,648.3 670.86,648.56 672.75,648.84 674.63,649.14 676.52,649.47 678.41,649.82 680.3,650.2 680.3,711.5 678.41,710.69 676.52,709.94 674.63,709.25 672.75,708.62 670.86,708.03 668.97,707.49 667.08,706.98 665.19,706.5 663.3,706.04 661.41,705.61 659.52,705.18 657.63,704.76 655.75,704.33 653.86,703.9 651.97,703.46 650.08,703 648.19,702.51 646.3,702.01 644.41,701.49 642.52,700.97 640.64,700.44 638.75,699.91 636.86,699.4 634.97,698.9 633.08,698.42 631.19,697.97 629.3,697.54 627.41,697.15 625.53,696.8 623.64,696.49 621.75,696.22 619.86,696 617.97,695.83 616.08,695.72 614.19,695.67 612.3,695.67 610.42,695.74 608.53,695.86 606.64,696.05 604.75,696.3 602.86,696.62 600.97,697 599.08,697.44 597.19,697.95 595.31,698.52 593.42,699.15 591.53,699.85 589.64,700.6 587.75,701.41 585.86,702.27 583.97,703.17 582.09,704.09 580.2,705.03 578.31,705.97 576.42,706.89 574.53,707.8 572.64,708.68 570.75,709.54 568.86,710.4 566.97,711.29 565.09,712.21 563.2,713.2 561.31,714.25 559.42,715.4 557.53,716.65 555.64,717.97 553.75,719.33 551.87,720.68 549.98,722 548.09,723.23 546.2,724.34 544.31,725.3 542.42,726.07 540.53,726.68 538.64,727.15 536.75,727.51 534.87,727.79 532.98,728.01 531.09,728.2 529.2,728.4 527.31,728.62 525.42,728.86 523.53,729.12 521.64,729.38 519.76,729.64 517.87,729.88 515.98,730.1 514.09,730.3 512.2,730.46 510.31,730.58 508.42,730.68 506.53,730.74 504.65,730.77 502.76,730.77 500.87,730.75 498.98,730.7 497.09,730.63 495.2,730.54 493.31,730.44 491.43,730.32 489.54,730.18 487.65,730.03 485.76,729.87 483.87,729.7 481.98,729.52 480.09,729.34 478.2,729.15 476.31,728.94 474.43,728.73 472.54,728.5 470.65,728.26 468.76,728 466.87,727.73 464.98,727.44 463.09,727.13 461.21,726.81 459.32,726.46 457.43,726.1 455.54,725.71 453.65,725.3 451.76,724.87 449.87,724.42 447.98,723.95 446.1,723.47 444.21,722.98 442.32,722.49 440.43,721.99 438.54,721.5 436.65,721.01 434.76,720.54 432.87,720.07 430.99,719.62 429.1,719.19 427.21,718.77 425.32,718.37 423.43,718 421.54,717.65 419.65,717.32 417.76,717.02 415.88,716.73 413.99,716.46 412.1,716.19 410.21,715.94 408.32,715.7 406.43,715.46 404.54,715.23 402.65,715 400.77,714.77 398.88,714.55 396.99,714.33 395.1,714.11 393.21,713.9 391.32,713.69 389.43,713.47 387.54,713.26 385.66,713.05 383.77,712.84 381.88,712.63 379.99,712.41 378.1,712.2"/>
<polygon fill="#ffa500" points="378.1,664.7 379.99,664.83 381.88,664.97 383.77,665.12 385.66,665.28 387.54,665.44 389.43,665.62 391.32,665.8 393.21,666 395.1,666.21 396.99,666.43 398.88,666.67 400.77,666.92 402.65,667.19 404.54,667.48 406.43,667.78 408.32,668.1 410.21,668.44 412.1,668.8 413.99,669.18 415.88,669.57 417.76,669.98 419.65,670.41 421.54,670.85 423.43,671.3 425.32,671.77 427.21,672.25 429.1,672.74 430.99,673.25 432.87,673.77 434.76,674.3 436.65,674.84 438.54,675.4 440.43,675.97 442.32,676.54 444.21,677.11 446.1,677.68 447.98,678.24 449.87,678.78 451.76,679.31 453.65,679.8 455.54,680.26 457.43,680.7 459.32,681.11 461.21,681.51 463.09,681.89 464.98,682.26 466.87,682.63 468.76,683 470.65,683.38 472.54,683.76 474.43,684.14 476.31,684.52 478.2,684.9 480.09,685.27 481.98,685.64 483.87,686 485.76,686.35 487.65,686.68 489.54,687 491.43,687.3 493.31,687.58 495.2,687.84 497.09,688.08 498.98,688.3 500.87,688.49 502.76,688.65 504.65,688.79 506.53,688.88 508.42,688.95 510.31,688.97 512.2,688.96 514.09,688.9 515.98,688.8 517.87,688.66 519.76,688.49 521.64,688.3 523.53,688.1 525.42,687.89 527.31,687.69 529.2,687.5 531.09,687.33 532.98,687.15 534.87,686.96 536.75,686.73 538.64,686.44 540.53,686.07 542.42,685.59 544.31,685 546.2,684.27 548.09,683.43 549.98,682.49 551.87,681.49 553.75,680.45 555.64,679.38 557.53,678.33 559.42,677.3 561.31,676.32 563.2,675.4 565.09,674.51 566.97,673.65 568.86,672.82 570.75,672.01 572.64,671.2 574.53,670.4 576.42,669.59 578.31,668.77 580.2,667.94 582.09,667.1 583.97,666.25 585.86,665.38 587.75,664.5 589.64,663.6 591.53,662.68 593.42,661.76 595.31,660.85 597.19,659.97 599.08,659.12 600.97,658.34 602.86,657.63 604.75,657 606.64,656.47 608.53,656.04 610.42,655.7 612.3,655.44 614.19,655.26 616.08,655.14 617.97,655.09 619.86,655.1 621.75,655.16 623.64,655.26 625.53,655.4 627.41,655.59 629.3,655.8 631.19,656.04 633.08,656.31 634.97,656.6 636.86,656.9 638.75,657.22 640.64,657.55 642.52,657.88 644.41,658.21 646.3,658.55 648.19,658.88 650.08,659.2 651.97,659.51 653.86,659.82 655.75,660.11 657.63,660.41 659.52,660.7 661.41,660.99 663.3,661.29 665.19,661.6 667.08,661.92 668.97,662.24 670.86,662.58 672.75,662.94 674.63,663.32 676.52,663.72 678.41,664.15 680.3,664.6 680.3,699 678.41,698.43 676.52,697.89 674.63,697.37 672.75,696.87 670.86,696.39 668.97,695.92 667.08,695.45 665.19,695 663.3,694.55 661.41,694.1 659.52,693.66 657.63,693.2 655.75,692.74 653.86,692.28 651.97,691.8 650.08,691.3 648.19,690.79 646.3,690.26 644.41,689.73 642.52,689.2 640.64,688.68 638.75,688.17 636.86,687.67 634.97,687.2 633.08,686.76 631.19,686.35 629.3,685.98 627.41,685.66 625.53,685.39 623.64,685.16 621.75,685 619.86,684.9 617.97,684.87 616.08,684.9 614.19,685 612.3,685.16 610.42,685.38 608.53,685.66 606.64,686 604.75,686.4 602.86,686.85 600.97,687.36 599.08,687.92 597.19,688.53 595.31,689.18 593.42,689.88 591.53,690.62 589.64,691.4 587.75,692.22 585.86,693.06 583.97,693.92 582.09,694.78 580.2,695.64 578.31,696.49 576.42,697.31 574.53,698.1 572.64,698.85 570.75,699.57 568.86,700.29 566.97,701.03 565.09,701.81 563.2,702.65 561.31,703.57 559.42,704.6 557.53,705.74 555.64,706.97 553.75,708.26 551.87,709.56 549.98,710.84 548.09,712.06 546.2,713.2 544.31,714.2 542.42,715.05 540.53,715.76 538.64,716.34 536.75,716.82 534.87,717.21 532.98,717.54 531.09,717.83 529.2,718.1 527.31,718.36 525.42,718.61 523.53,718.86 521.64,719.09 519.76,719.3 517.87,719.49 515.98,719.66 514.09,719.8 512.2,719.91 510.31,719.99 508.42,720.03 506.53,720.05 504.65,720.03 502.76,719.99 500.87,719.91 498.98,719.8 497.09,719.66 495.2,719.5 493.31,719.31 491.43,719.1 489.54,718.87 487.65,718.62 485.76,718.37 483.87,718.1 481.98,717.83 480.09,717.55 478.2,717.26 476.31,716.97 474.43,716.66 472.54,716.35 470.65,716.03 468.76,715.7 466.87,715.36 464.98,715.01 463.09,714.65 461.21,714.28 459.32,713.9 457.43,713.51 455.54,713.11 453.65,712.7 451.76,712.28 449.87,711.86 447.98,711.42 446.1,710.98 444.21,710.54 442.32,710.1 440.43,709.65 438.54,709.2 436.65,708.75 434.76,708.31 432.87,707.86 430.99,707.42 429.1,706.98 427.21,706.55 425.32,706.12 423.43,705.7 421.54,705.29 419.65,704.88 417.76,704.49 415.88,704.11 413.99,703.75 412.1,703.41 410.21,703.09 408.32,702.8 406.43,702.53 404.54,702.29 402.65,702.07 400.77,701.86 398.88,701.66 396.99,701.47 395.1,701.29 393.21,701.1 391.32,700.91 389.43,700.71 387.54,700.5 385.66,700.27 383.77,700.02 381.88,699.74 379.99,699.44 378.1,699.1"/>
<rect x="378.1" y="771.57" width="302.2" height="7.37" fill="#0000ff"/>
<polyline fill="none" stroke="#00ff00" stroke-width="4.2" stroke-linejoin="round" points="378.1,791.71 379.99,792.09 381.88,792.45 383.77,792.81 385.66,793.15 387.54,793.48 389.43,793.79 391.32,794.09 393.21,794.36 395.1,794.62 396.99,794.85 398.88,795.06 400.77,795.25 402.65,795.4 404.54,795.53 406.43,795.62 408.32,795.69 410.21,795.72 412.1,795.71 413.99,795.69 415.88,795.63 417.76,795.56 419.65,795.47 421.54,795.36 423.43,795.25 425.32,795.12 427.21,794.99 429.1,794.85 430.99,794.69 432.87,794.53 434.76,794.34 436.65,794.14 438.54,793.92 440.43,793.68 442.32,793.42 444.21,793.15 446.1,792.87 447.98,792.58 449.87,792.29 451.76,792 453.65,791.71 455.54,791.43 457.43,791.16 459.32,790.89 461.21,790.62 463.09,790.35 464.98,790.07 466.87,789.79 468.76,789.5 470.65,789.2 472.54,788.89 474.43,788.57 476.31,788.25 478.2,787.91 480.09,787.56 481.98,787.21 483.87,786.85 485.76,786.49 487.65,786.12 489.54,785.75 491.43,785.36 493.31,784.98 495.2,784.58 497.09,784.17 498.98,783.76 500.87,783.34 502.76,782.91 504.65,782.47 506.53,782.01 508.42,781.54 510.31,781.05 512.2,780.54 514.09,780.01 515.98,779.46 517.87,778.88 519.76,778.27 521.64,777.63 523.53,776.96 525.42,776.25 527.31,775.5 529.2,774.71 531.09,773.87 532.98,772.99 534.87,772.05 536.75,771.07 538.64,770.02 540.53,768.92 542.42,767.76 544.31,766.54 546.2,765.25 548.09,763.91 549.98,762.53 551.87,761.13 553.75,759.71 555.64,758.29 557.53,756.88 559.42,755.5 561.31,754.15 563.2,752.84 565.09,751.58 566.97,750.37 568.86,749.2 570.75,748.08 572.64,747.01 574.53,746 576.42,745.05 578.31,744.15 580.2,743.31 582.09,742.53 583.97,741.82 585.86,741.16 587.75,740.57 589.64,740.04 591.53,739.57 593.42,739.18 595.31,738.85 597.19,738.61 599.08,738.45 600.97,738.37 602.86,738.38 604.75,738.49 606.64,738.7 608.53,739 610.42,739.4 612.3,739.89 614.19,740.47 616.08,741.13 617.97,741.87 619.86,742.69 621.75,743.58 623.64,744.56 625.53,745.61 627.41,746.75 629.3,747.97 631.19,749.28 633.08,750.69 634.97,752.18 636.86,753.78 638.75,755.45 640.64,757.21 642.52,759.03 644.41,760.9 646.3,762.82 648.19,764.78 650.08,766.76 651.97,768.75 653.86,770.74 655.75,772.72 657.63,774.68 659.52,776.6 661.41,778.47 663.3,780.27 665.19,782 667.08,783.63 668.97,785.17 670.86,786.59 672.75,787.88 674.63,789.02 676.52,790.02 678.41,790.85 680.3,791.49"/>
<polyline fill="none" stroke="#000" stroke-opacity="0.5" stroke-width="1.3" stroke-dasharray="5.4 3.8" points="378.1,791.71 379.99,792.09 381.88,792.45 383.77,792.81 385.66,793.15 387.54,793.48 389.43,793.79 391.32,794.09 393.21,794.36 395.1,794.62 396.99,794.85 398.88,795.06 400.77,795.25 402.65,795.4 404.54,795.53 406.43,795.62 408.32,795.69 410.21,795.72 412.1,795.71 413.99,795.69 415.88,795.63 417.76,795.56 419.65,795.47 421.54,795.36 423.43,795.25 425.32,795.12 427.21,794.99 429.1,794.85 430.99,794.69 432.87,794.53 434.76,794.34 436.65,794.14 438.54,793.92 440.43,793.68 442.32,793.42 444.21,793.15 446.1,792.87 447.98,792.58 449.87,792.29 451.76,792 453.65,791.71 455.54,791.43 457.43,791.16 459.32,790.89 461.21,790.62 463.09,790.35 464.98,790.07 466.87,789.79 468.76,789.5 470.65,789.2 472.54,788.89 474.43,788.57 476.31,788.25 478.2,787.91 480.09,787.56 481.98,787.21 483.87,786.85 485.76,786.49 487.65,786.12 489.54,785.75 491.43,785.36 493.31,784.98 495.2,784.58 497.09,784.17 498.98,783.76 500.87,783.34 502.76,782.91 504.65,782.47 506.53,782.01 508.42,781.54 510.31,781.05 512.2,780.54 514.09,780.01 515.98,779.46 517.87,778.88 519.76,778.27 521.64,777.63 523.53,776.96 525.42,776.25 527.31,775.5 529.2,774.71 531.09,773.87 532.98,772.99 534.87,772.05 536.75,771.07 538.64,770.02 540.53,768.92 542.42,767.76 544.31,766.54 546.2,765.25 548.09,763.91 549.98,762.53 551.87,761.13 553.75,759.71 555.64,758.29 557.53,756.88 559.42,755.5 561.31,754.15 563.2,752.84 565.09,751.58 566.97,750.37 568.86,749.2 570.75,748.08 572.64,747.01 574.53,746 576.42,745.05 578.31,744.15 580.2,743.31 582.09,742.53 583.97,741.82 585.86,741.16 587.75,740.57 589.64,740.04 591.53,739.57 593.42,739.18 595.31,738.85 597.19,738.61 599.08,738.45 600.97,738.37 602.86,738.38 604.75,738.49 606.64,738.7 608.53,739 610.42,739.4 612.3,739.89 614.19,740.47 616.08,741.13 617.97,741.87 619.86,742.69 621.75,743.58 623.64,744.56 625.53,745.61 627.41,746.75 629.3,747.97 631.19,749.28 633.08,750.69 634.97,752.18 636.86,753.78 638.75,755.45 640.64,757.21 642.52,759.03 644.41,760.9 646.3,762.82 648.19,764.78 650.08,766.76 651.97,768.75 653.86,770.74 655.75,772.72 657.63,774.68 659.52,776.6 661.41,778.47 663.3,780.27 665.19,782 667.08,783.63 668.97,785.17 670.86,786.59 672.75,787.88 674.63,789.02 676.52,790.02 678.41,790.85 680.3,791.49"/>
<polyline fill="none" stroke="#0000f0" stroke-width="1.4" stroke-dasharray="5.7 3.8" points="378.1,681 379.99,681.15 381.88,681.32 383.77,681.51 385.66,681.7 387.54,681.91 389.43,682.13 391.32,682.36 393.21,682.6 395.1,682.85 396.99,683.1 398.88,683.36 400.77,683.62 402.65,683.89 404.54,684.16 406.43,684.43 408.32,684.7 410.21,684.97 412.1,685.25 413.99,685.53 415.88,685.84 417.76,686.16 419.65,686.51 421.54,686.88 423.43,687.3 425.32,687.75 427.21,688.24 429.1,688.76 430.99,689.3 432.87,689.85 434.76,690.4 436.65,690.96 438.54,691.5 440.43,692.03 442.32,692.55 444.21,693.05 446.1,693.54 447.98,694.02 449.87,694.49 451.76,694.95 453.65,695.4 455.54,695.85 457.43,696.29 459.32,696.73 461.21,697.15 463.09,697.58 464.98,697.99 466.87,698.4 468.76,698.8 470.65,699.19 472.54,699.58 474.43,699.95 476.31,700.32 478.2,700.68 480.09,701.03 481.98,701.37 483.87,701.7 485.76,702.02 487.65,702.33 489.54,702.63 491.43,702.91 493.31,703.17 495.2,703.4 497.09,703.62 498.98,703.8 500.87,703.95 502.76,704.08 504.65,704.17 506.53,704.22 508.42,704.24 510.31,704.23 512.2,704.18 514.09,704.1 515.98,703.98 517.87,703.82 519.76,703.64 521.64,703.43 523.53,703.19 525.42,702.94 527.31,702.68 529.2,702.4 531.09,702.11 532.98,701.8 534.87,701.45 536.75,701.03 538.64,700.54 540.53,699.95 542.42,699.24 544.31,698.4 546.2,697.42 548.09,696.32 549.98,695.12 551.87,693.87 553.75,692.59 555.64,691.32 557.53,690.08 559.42,688.9 561.31,687.81 563.2,686.8 565.09,685.85 566.97,684.95 568.86,684.08 570.75,683.23 572.64,682.37 574.53,681.5 576.42,680.6 578.31,679.68 580.2,678.75 582.09,677.82 583.97,676.91 585.86,676.03 587.75,675.19 589.64,674.4 591.53,673.68 593.42,673.01 595.31,672.41 597.19,671.87 599.08,671.38 600.97,670.94 602.86,670.55 604.75,670.2 606.64,669.9 608.53,669.64 610.42,669.42 612.3,669.26 614.19,669.14 616.08,669.07 617.97,669.06 619.86,669.1 621.75,669.19 623.64,669.34 625.53,669.52 627.41,669.75 629.3,670 631.19,670.29 633.08,670.59 634.97,670.9 636.86,671.22 638.75,671.55 640.64,671.89 642.52,672.25 644.41,672.61 646.3,672.99 648.19,673.39 650.08,673.8 651.97,674.23 653.86,674.68 655.75,675.13 657.63,675.6 659.52,676.07 661.41,676.55 663.3,677.03 665.19,677.5 667.08,677.97 668.97,678.42 670.86,678.87 672.75,679.3 674.63,679.71 676.52,680.1 678.41,680.46 680.3,680.8"/>
<line x1="438.6" y1="576.4" x2="438.6" y2="841.4" stroke="#ffff40" stroke-width="1" stroke-dasharray="4 3"/>
<line x1="485.3" y1="576.4" x2="485.3" y2="841.4" stroke="#ffff40" stroke-width="1" stroke-dasharray="4 3"/>
<line x1="378.1" y1="819.32" x2="680.3" y2="819.32" stroke="#000" stroke-opacity="0.62" stroke-width="1" stroke-dasharray="1 3.29"/>
<line x1="378.1" y1="797.23" x2="680.3" y2="797.23" stroke="#000" stroke-opacity="0.62" stroke-width="1" stroke-dasharray="1 3.29"/>
<line x1="378.1" y1="775.15" x2="680.3" y2="775.15" stroke="#000" stroke-opacity="0.62" stroke-width="1" stroke-dasharray="1 3.29"/>
<line x1="378.1" y1="753.07" x2="680.3" y2="753.07" stroke="#000" stroke-opacity="0.62" stroke-width="1" stroke-dasharray="1 3.29"/>
<line x1="378.1" y1="730.98" x2="680.3" y2="730.98" stroke="#000" stroke-opacity="0.62" stroke-width="1" stroke-dasharray="1 3.29"/>
<line x1="378.1" y1="708.9" x2="680.3" y2="708.9" stroke="#000" stroke-opacity="0.62" stroke-width="1" stroke-dasharray="1 3.29"/>
<line x1="378.1" y1="686.82" x2="680.3" y2="686.82" stroke="#000" stroke-opacity="0.62" stroke-width="1" stroke-dasharray="1 3.29"/>
<line x1="378.1" y1="664.73" x2="680.3" y2="664.73" stroke="#000" stroke-opacity="0.62" stroke-width="1" stroke-dasharray="1 3.29"/>
<line x1="378.1" y1="642.65" x2="680.3" y2="642.65" stroke="#000" stroke-opacity="0.62" stroke-width="1" stroke-dasharray="1 3.29"/>
<line x1="378.1" y1="620.57" x2="680.3" y2="620.57" stroke="#000" stroke-opacity="0.62" stroke-width="1" stroke-dasharray="1 3.29"/>
<line x1="378.1" y1="598.48" x2="680.3" y2="598.48" stroke="#000" stroke-opacity="0.62" stroke-width="1" stroke-dasharray="1 3.29"/>
<line x1="459.54" y1="676.44" x2="459.54" y2="708.9" stroke="#000" stroke-width="1.15"/>
<line x1="456.54" y1="676.44" x2="462.54" y2="676.44" stroke="#000" stroke-width="1.15"/>
<line x1="456.54" y1="708.9" x2="462.54" y2="708.9" stroke="#000" stroke-width="1.15"/>
<circle cx="459.54" cy="692.12" r="3.2" fill="#000"/>
</g>
<path d="M378.1,841.4h10M680.3,841.4h-10M378.1,835.88h5M680.3,835.88h-5M378.1,830.36h5M680.3,830.36h-5M378.1,824.84h5M680.3,824.84h-5M378.1,819.32h10M680.3,819.32h-10M378.1,813.8h5M680.3,813.8h-5M378.1,808.27h5M680.3,808.27h-5M378.1,802.75h5M680.3,802.75h-5M378.1,797.23h10M680.3,797.23h-10M378.1,791.71h5M680.3,791.71h-5M378.1,786.19h5M680.3,786.19h-5M378.1,780.67h5M680.3,780.67h-5M378.1,775.15h10M680.3,775.15h-10M378.1,769.63h5M680.3,769.63h-5M378.1,764.11h5M680.3,764.11h-5M378.1,758.59h5M680.3,758.59h-5M378.1,753.07h10M680.3,753.07h-10M378.1,747.55h5M680.3,747.55h-5M378.1,742.02h5M680.3,742.02h-5M378.1,736.5h5M680.3,736.5h-5M378.1,730.98h10M680.3,730.98h-10M378.1,725.46h5M680.3,725.46h-5M378.1,719.94h5M680.3,719.94h-5M378.1,714.42h5M680.3,714.42h-5M378.1,708.9h10M680.3,708.9h-10M378.1,703.38h5M680.3,703.38h-5M378.1,697.86h5M680.3,697.86h-5M378.1,692.34h5M680.3,692.34h-5M378.1,686.82h10M680.3,686.82h-10M378.1,681.3h5M680.3,681.3h-5M378.1,675.77h5M680.3,675.77h-5M378.1,670.25h5M680.3,670.25h-5M378.1,664.73h10M680.3,664.73h-10M378.1,659.21h5M680.3,659.21h-5M378.1,653.69h5M680.3,653.69h-5M378.1,648.17h5M680.3,648.17h-5M378.1,642.65h10M680.3,642.65h-10M378.1,637.13h5M680.3,637.13h-5M378.1,631.61h5M680.3,631.61h-5M378.1,626.09h5M680.3,626.09h-5M378.1,620.57h10M680.3,620.57h-10M378.1,615.05h5M680.3,615.05h-5M378.1,609.52h5M680.3,609.52h-5M378.1,604h5M680.3,604h-5M378.1,598.48h10M680.3,598.48h-10M378.1,592.96h5M680.3,592.96h-5M378.1,587.44h5M680.3,587.44h-5M378.1,581.92h5M680.3,581.92h-5M378.1,576.4h10M680.3,576.4h-10M378.1,576.4v10M378.1,841.4v-10M393.21,576.4v5M393.21,841.4v-5M408.32,576.4v5M408.32,841.4v-5M423.43,576.4v5M423.43,841.4v-5M438.54,576.4v5M438.54,841.4v-5M453.65,576.4v10M453.65,841.4v-10M468.76,576.4v5M468.76,841.4v-5M483.87,576.4v5M483.87,841.4v-5M498.98,576.4v5M498.98,841.4v-5M514.09,576.4v5M514.09,841.4v-5M529.2,576.4v10M529.2,841.4v-10M544.31,576.4v5M544.31,841.4v-5M559.42,576.4v5M559.42,841.4v-5M574.53,576.4v5M574.53,841.4v-5M589.64,576.4v5M589.64,841.4v-5M604.75,576.4v10M604.75,841.4v-10M619.86,576.4v5M619.86,841.4v-5M634.97,576.4v5M634.97,841.4v-5M650.08,576.4v5M650.08,841.4v-5M665.19,576.4v5M665.19,841.4v-5M680.3,576.4v10M680.3,841.4v-10" stroke="#000" stroke-width="1" fill="none"/>
<rect x="378.1" y="576.4" width="302.2" height="265" fill="none" stroke="#000" stroke-width="1.1"/>
<text x="648" y="594.2" font-family="Liberation Serif" font-size="16">(f)</text>
<text x="552.5" y="813.1" font-family="Liberation Serif" font-size="15.1">True MO: Inverted</text>
<text x="54.6" y="281.6" font-family="Liberation Serif" font-size="19" text-anchor="end">0</text>
<text x="54.6" y="259.53" font-family="Liberation Serif" font-size="19" text-anchor="end">1</text>
<text x="54.6" y="237.45" font-family="Liberation Serif" font-size="19" text-anchor="end">2</text>
<text x="54.6" y="215.38" font-family="Liberation Serif" font-size="19" text-anchor="end">3</text>
<text x="54.6" y="193.3" font-family="Liberation Serif" font-size="19" text-anchor="end">4</text>
<text x="54.6" y="171.23" font-family="Liberation Serif" font-size="19" text-anchor="end">5</text>
<text x="54.6" y="149.15" font-family="Liberation Serif" font-size="19" text-anchor="end">6</text>
<text x="54.6" y="127.07" font-family="Liberation Serif" font-size="19" text-anchor="end">7</text>
<text x="54.6" y="105" font-family="Liberation Serif" font-size="19" text-anchor="end">8</text>
<text x="54.6" y="82.92" font-family="Liberation Serif" font-size="19" text-anchor="end">9</text>
<text x="54.6" y="60.85" font-family="Liberation Serif" font-size="19" text-anchor="end">10</text>
<text x="54.6" y="38.77" font-family="Liberation Serif" font-size="19" text-anchor="end">11</text>
<text x="54.6" y="16.7" font-family="Liberation Serif" font-size="19" text-anchor="end">12</text>
<text transform="translate(18.1,139.65) rotate(-90)" font-family="Liberation Serif" font-size="20.8" text-anchor="middle">Mass Ordering Significance [σ]</text>
<text x="54.6" y="564.1" font-family="Liberation Serif" font-size="19" text-anchor="end">0</text>
<text x="54.6" y="541.99" font-family="Liberation Serif" font-size="19" text-anchor="end">1</text>
<text x="54.6" y="519.88" font-family="Liberation Serif" font-size="19" text-anchor="end">2</text>
<text x="54.6" y="497.77" font-family="Liberation Serif" font-size="19" text-anchor="end">3</text>
<text x="54.6" y="475.67" font-family="Liberation Serif" font-size="19" text-anchor="end">4</text>
<text x="54.6" y="453.56" font-family="Liberation Serif" font-size="19" text-anchor="end">5</text>
<text x="54.6" y="431.45" font-family="Liberation Serif" font-size="19" text-anchor="end">6</text>
<text x="54.6" y="409.34" font-family="Liberation Serif" font-size="19" text-anchor="end">7</text>
<text x="54.6" y="387.23" font-family="Liberation Serif" font-size="19" text-anchor="end">8</text>
<text x="54.6" y="365.12" font-family="Liberation Serif" font-size="19" text-anchor="end">9</text>
<text x="54.6" y="343.02" font-family="Liberation Serif" font-size="19" text-anchor="end">10</text>
<text x="54.6" y="320.91" font-family="Liberation Serif" font-size="19" text-anchor="end">11</text>
<text x="54.6" y="298.8" font-family="Liberation Serif" font-size="19" text-anchor="end">12</text>
<text transform="translate(18.1,421.95) rotate(-90)" font-family="Liberation Serif" font-size="20.8" text-anchor="middle">Mass Ordering Significance [σ]</text>
<text x="54.6" y="847.7" font-family="Liberation Serif" font-size="19" text-anchor="end">0</text>
<text x="54.6" y="825.62" font-family="Liberation Serif" font-size="19" text-anchor="end">1</text>
<text x="54.6" y="803.53" font-family="Liberation Serif" font-size="19" text-anchor="end">2</text>
<text x="54.6" y="781.45" font-family="Liberation Serif" font-size="19" text-anchor="end">3</text>
<text x="54.6" y="759.37" font-family="Liberation Serif" font-size="19" text-anchor="end">4</text>
<text x="54.6" y="737.28" font-family="Liberation Serif" font-size="19" text-anchor="end">5</text>
<text x="54.6" y="715.2" font-family="Liberation Serif" font-size="19" text-anchor="end">6</text>
<text x="54.6" y="693.12" font-family="Liberation Serif" font-size="19" text-anchor="end">7</text>
<text x="54.6" y="671.03" font-family="Liberation Serif" font-size="19" text-anchor="end">8</text>
<text x="54.6" y="648.95" font-family="Liberation Serif" font-size="19" text-anchor="end">9</text>
<text x="54.6" y="626.87" font-family="Liberation Serif" font-size="19" text-anchor="end">10</text>
<text x="54.6" y="604.78" font-family="Liberation Serif" font-size="19" text-anchor="end">11</text>
<text x="54.6" y="582.7" font-family="Liberation Serif" font-size="19" text-anchor="end">12</text>
<text transform="translate(18.1,705.7) rotate(-90)" font-family="Liberation Serif" font-size="20.8" text-anchor="middle">Mass Ordering Significance [σ]</text>
<rect x="318.5" y="14.3" width="103.9" height="20.8" fill="#fff" stroke="#000" stroke-width="1.3"/>
<text x="335.1" y="28.8" font-family="Liberation Serif" font-size="12">σ(Δm<tspan font-size="8" dy="-7.0">2</tspan><tspan font-size="8" dy="12.0" dx="-0.2">32</tspan><tspan dy="-5.0" dx="0.6">) = 1%</tspan></text>
<rect x="317.4" y="299.2" width="107.1" height="21.2" fill="#fff" stroke="#000" stroke-width="1.3"/>
<text x="324.6" y="313.5" font-family="Liberation Serif" font-size="12">σ(Δm<tspan font-size="8" dy="-7.0">2</tspan><tspan font-size="8" dy="12.0" dx="-0.2">32</tspan><tspan dy="-5.0" dx="0.6">) = 0.75%</tspan></text>
<rect x="320.5" y="582.4" width="100" height="21.5" fill="#fff" stroke="#000" stroke-width="1.3"/>
<text x="328.6" y="597.5" font-family="Liberation Serif" font-size="12">σ(Δm<tspan font-size="8" dy="-7.0">2</tspan><tspan font-size="8" dy="12.0" dx="-0.2">32</tspan><tspan dy="-5.0" dx="0.6">) = 0.5%</tspan></text>
<text x="59.9" y="858.4" font-family="Liberation Serif" font-size="16.5" text-anchor="middle">-1</text>
<text x="135.5" y="858.4" font-family="Liberation Serif" font-size="16.5" text-anchor="middle">-0.5</text>
<text x="211.1" y="858.4" font-family="Liberation Serif" font-size="16.5" text-anchor="middle">0</text>
<text x="286.7" y="858.4" font-family="Liberation Serif" font-size="16.5" text-anchor="middle">0.5</text>
<text x="362.3" y="858.4" font-family="Liberation Serif" font-size="16.5" text-anchor="middle">1</text>
<text x="184.65" y="882.8" font-family="Liberation Serif" font-size="20">δ</text>
<text x="194.55" y="890.9" font-family="Liberation Serif" font-size="14">CP</text>
<text x="195.65" y="875.6" font-family="Liberation Serif" font-size="13.2">true</text>
<text x="215.65" y="882.8" font-family="Liberation Serif" font-size="20">/</text>
<text x="225.95" y="882.8" font-family="Liberation Serif" font-size="20">π</text>
<text x="378.5" y="858.4" font-family="Liberation Serif" font-size="16.5" text-anchor="middle">-1</text>
<text x="454.05" y="858.4" font-family="Liberation Serif" font-size="16.5" text-anchor="middle">-0.5</text>
<text x="529.6" y="858.4" font-family="Liberation Serif" font-size="16.5" text-anchor="middle">0</text>
<text x="605.15" y="858.4" font-family="Liberation Serif" font-size="16.5" text-anchor="middle">0.5</text>
<text x="680.7" y="858.4" font-family="Liberation Serif" font-size="16.5" text-anchor="middle">1</text>
<text x="503.15" y="882.8" font-family="Liberation Serif" font-size="20">δ</text>
<text x="513.05" y="890.9" font-family="Liberation Serif" font-size="14">CP</text>
<text x="514.15" y="875.6" font-family="Liberation Serif" font-size="13.2">true</text>
<text x="534.15" y="882.8" font-family="Liberation Serif" font-size="20">/</text>
<text x="544.45" y="882.8" font-family="Liberation Serif" font-size="20">π</text>
<rect x="203.3" y="36.5" width="310.1" height="105.8" fill="#fff" stroke="#000" stroke-width="1"/>
<rect x="207.7" y="46.1" width="33.3" height="7.8" fill="#0000ff"/>
<rect x="207.0" y="61.5" width="33.2" height="8.2" fill="#00ff00"/>
<rect x="207.0" y="75.0" width="33.2" height="7.8" fill="#ffa500"/>
<rect x="207.7" y="91.0" width="33.3" height="7.8" fill="#d9d9d9"/>
<rect x="207.0" y="103.9" width="33.2" height="8.1" fill="#ffff00"/>
<circle cx="222.0" cy="122.0" r="3.3" fill="#000"/>
<text x="246.1" y="53.3" font-family="Liberation Serif" font-size="10.1" xml:space="preserve">JUNO only (Δχ</text>
<text x="310.7" y="47.4" font-family="Liberation Serif" font-size="7.5" xml:space="preserve">2</text>
<text x="315.5" y="53.3" font-family="Liberation Serif" font-size="10.1" xml:space="preserve">= 9 ±1)</text>
<text x="246.1" y="68.0" font-family="Liberation Serif" font-size="10.1" xml:space="preserve">T2K + NOvA</text>
<text x="246.1" y="80.7" font-family="Liberation Serif" font-size="10.1" xml:space="preserve">JUNO + T2K + NOvA  with fluctuation and δ</text>
<text x="432.5" y="76.6" font-family="Liberation Serif" font-size="8.9" xml:space="preserve">false</text>
<text x="432.5" y="84.6" font-family="Liberation Serif" font-size="7.3" xml:space="preserve">CP</text>
<text x="453.7" y="80.7" font-family="Liberation Serif" font-size="10.1" xml:space="preserve">= ± π/2</text>
<text x="246.1" y="97.2" font-family="Liberation Serif" font-size="10.1" xml:space="preserve">JUNO + T2K + NOvA with fluctuation and δ</text>
<text x="431.4" y="93.6" font-family="Liberation Serif" font-size="8.9" xml:space="preserve">false</text>
<text x="431.4" y="101.4" font-family="Liberation Serif" font-size="7.3" xml:space="preserve">CP</text>
<text x="451.5" y="97.2" font-family="Liberation Serif" font-size="10.1" xml:space="preserve">unconstrained</text>
<text x="246.4" y="113.0" font-family="Liberation Serif" font-size="10.1" xml:space="preserve">±1σ</text>
<text x="266.5" y="113.0" font-family="Liberation Serif" font-size="10.4" xml:space="preserve">range of</text>
<text x="303.6" y="113.0" font-family="Liberation Serif" font-size="10.4" xml:space="preserve">δ</text>
<text x="310.2" y="116.1" font-family="Liberation Serif" font-size="7.6" xml:space="preserve">CP</text>
<text x="321.9" y="113.0" font-family="Liberation Serif" font-size="10.4" xml:space="preserve">currently favored (NuFit5.0)</text>
<text x="246.0" y="124.2" font-family="Liberation Serif" font-size="10.2" xml:space="preserve">projection by the data currently favored (NuFit5.0)</text>
<text x="261.7" y="138.3" font-family="Liberation Serif" font-size="10.1" xml:space="preserve">sin</text>
<text x="274.5" y="132.3" font-family="Liberation Serif" font-size="8" xml:space="preserve">2</text>
<text x="277.7" y="138.3" font-family="Liberation Serif" font-size="10.1" xml:space="preserve">θ</text>
<text x="284.2" y="132.3" font-family="Liberation Serif" font-size="8.2" xml:space="preserve">true</text>
<text x="284.2" y="142.0" font-family="Liberation Serif" font-size="7.3" xml:space="preserve">23</text>
<text x="303.4" y="138.3" font-family="Liberation Serif" font-size="10.6" xml:space="preserve">= 0.565 (0.568) ± 2% for NMO (IMO)</text>
</svg>
</body></html>
